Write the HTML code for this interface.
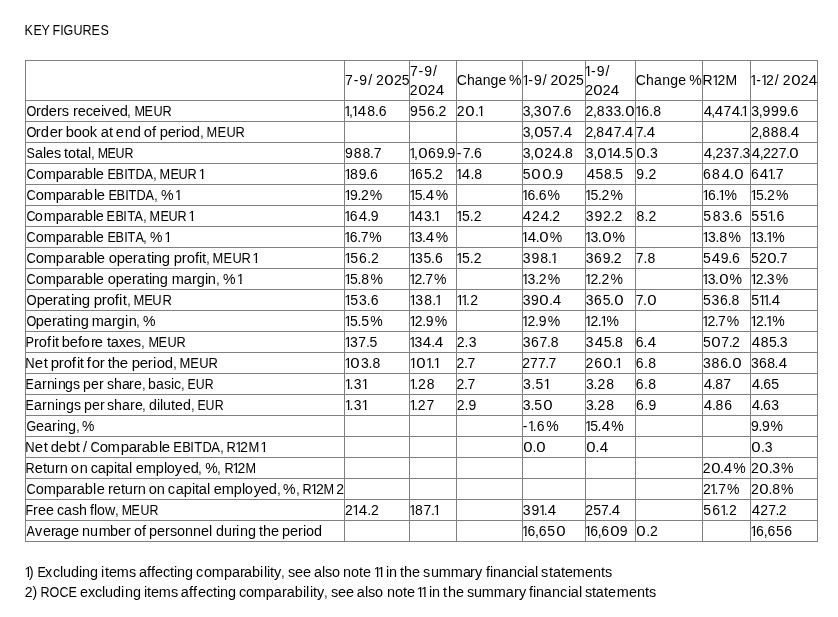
<!DOCTYPE html>
<html><head><meta charset="utf-8"><style>
html,body{margin:0;padding:0;background:#fff;}
body{width:838px;height:617px;position:relative;overflow:hidden;will-change:transform;font-family:"Liberation Sans",sans-serif;font-size:14px;color:#000;}
.t{position:absolute;white-space:pre;line-height:20px;height:20px;transform-origin:0 0;}
b{position:absolute;font-weight:normal;line-height:20px;}
.o{clip-path:polygon(0 0,100% 0,100% 13.6px,4.9px 13.6px,4.9px 20px,3.4px 20px,3.4px 13.6px,0 13.6px);}
.o1{display:inline-block;line-height:20px;height:20px;vertical-align:top;text-indent:-1px;letter-spacing:0;clip-path:polygon(0 0,100% 0,100% 13.6px,3.9px 13.6px,3.9px 20px,2.4px 20px,2.4px 13.6px,0 13.6px);}
.v{position:absolute;background:#808080;width:1px;}
.h{position:absolute;background:#808080;height:1px;}
</style></head><body>
<div class="v" style="left:25px;top:60px;height:482px"></div>
<div class="v" style="left:344px;top:60px;height:482px"></div>
<div class="v" style="left:409px;top:60px;height:482px"></div>
<div class="v" style="left:456px;top:60px;height:482px"></div>
<div class="v" style="left:522px;top:60px;height:482px"></div>
<div class="v" style="left:585px;top:60px;height:482px"></div>
<div class="v" style="left:635px;top:60px;height:482px"></div>
<div class="v" style="left:702px;top:60px;height:482px"></div>
<div class="v" style="left:750px;top:60px;height:482px"></div>
<div class="v" style="left:817px;top:60px;height:482px"></div>
<div class="h" style="left:25px;top:60px;width:793px"></div>
<div class="h" style="left:25px;top:100px;width:793px"></div>
<div class="h" style="left:25px;top:121px;width:793px"></div>
<div class="h" style="left:25px;top:142px;width:793px"></div>
<div class="h" style="left:25px;top:163px;width:793px"></div>
<div class="h" style="left:25px;top:184px;width:793px"></div>
<div class="h" style="left:25px;top:205px;width:793px"></div>
<div class="h" style="left:25px;top:226px;width:793px"></div>
<div class="h" style="left:25px;top:247px;width:793px"></div>
<div class="h" style="left:25px;top:268px;width:793px"></div>
<div class="h" style="left:25px;top:289px;width:793px"></div>
<div class="h" style="left:25px;top:310px;width:793px"></div>
<div class="h" style="left:25px;top:331px;width:793px"></div>
<div class="h" style="left:25px;top:352px;width:793px"></div>
<div class="h" style="left:25px;top:373px;width:793px"></div>
<div class="h" style="left:25px;top:394px;width:793px"></div>
<div class="h" style="left:25px;top:415px;width:793px"></div>
<div class="h" style="left:25px;top:436px;width:793px"></div>
<div class="h" style="left:25px;top:457px;width:793px"></div>
<div class="h" style="left:25px;top:478px;width:793px"></div>
<div class="h" style="left:25px;top:499px;width:793px"></div>
<div class="h" style="left:25px;top:520px;width:793px"></div>
<div class="h" style="left:25px;top:541px;width:793px"></div>
<b style="left:24.13px;top:20px;transform:scaleX(0.895);transform-origin:5.16px 0">K</b><b style="left:32.50px;top:20px;transform:scaleX(0.895);transform-origin:4.94px 0">E</b><b style="left:40.89px;top:20px;transform:scaleX(0.895);transform-origin:4.67px 0">Y</b><b style="left:52.33px;top:20px;transform:scaleX(0.895);transform-origin:4.57px 0">F</b><b style="left:60.26px;top:20px;transform:scaleX(0.895);transform-origin:1.94px 0">I</b><b style="left:63.38px;top:20px;transform:scaleX(0.895);transform-origin:5.27px 0">G</b><b style="left:73.15px;top:20px;transform:scaleX(0.895);transform-origin:5.06px 0">U</b><b style="left:82.17px;top:20px;transform:scaleX(0.895);transform-origin:5.30px 0">R</b><b style="left:91.25px;top:20px;transform:scaleX(0.895);transform-origin:4.94px 0">E</b><b style="left:99.63px;top:20px;transform:scaleX(0.895);transform-origin:4.67px 0">S</b>
<b style="left:344.92px;top:70px">7</b><b style="left:353.69px;top:70px">-</b><b style="left:359.34px;top:70px">9</b><b style="left:368.13px;top:70px">/</b><b style="left:376.10px;top:70px">2</b><b style="left:385.02px;top:70px;transform:scaleX(1.2);transform-origin:3.89px 0">0</b><b style="left:393.93px;top:70px">2</b><b style="left:401.80px;top:70px">5</b>
<b style="left:409.90px;top:61px">7</b><b style="left:418.62px;top:61px">-</b><b style="left:424.21px;top:61px">9</b><b style="left:432.96px;top:61px">/</b>
<b style="left:409.76px;top:80px">2</b><b style="left:418.61px;top:80px;transform:scaleX(1.2);transform-origin:3.89px 0">0</b><b style="left:427.46px;top:80px">2</b><b style="left:436.00px;top:80px;transform:scaleX(1.08);transform-origin:3.85px 0">4</b>
<div class="t" style="left:456.69px;top:70px;letter-spacing:0.104px;word-spacing:-1.3px">Change %</div>
<b class="o" style="left:522.14px;top:70px">1</b><b style="left:528.31px;top:70px">-</b><b style="left:533.90px;top:70px">9</b><b style="left:542.64px;top:70px">/</b><b style="left:550.53px;top:70px">2</b><b style="left:559.37px;top:70px;transform:scaleX(1.2);transform-origin:3.89px 0">0</b><b style="left:568.22px;top:70px">2</b><b style="left:576.02px;top:70px">5</b>
<b class="o" style="left:584.62px;top:61px">1</b><b style="left:590.89px;top:61px">-</b><b style="left:596.67px;top:61px">9</b><b style="left:605.59px;top:61px">/</b>
<b style="left:585.30px;top:80px">2</b><b style="left:593.99px;top:80px;transform:scaleX(1.2);transform-origin:3.89px 0">0</b><b style="left:602.68px;top:80px">2</b><b style="left:611.07px;top:80px;transform:scaleX(1.08);transform-origin:3.85px 0">4</b>
<div class="t" style="left:635.69px;top:70px;letter-spacing:0.262px;word-spacing:-1.3px">Change %</div>
<div class="t" style="left:702.55px;top:70px;letter-spacing:0.313px;word-spacing:-1.3px">R<span class="o1" style="width:4.51px">1</span>2M</div>
<b class="o" style="left:750.08px;top:70px">1</b><b style="left:756.30px;top:70px">-</b><b class="o" style="left:760.71px;top:70px">1</b><b style="left:766.08px;top:70px">2</b><b style="left:774.76px;top:70px">/</b><b style="left:782.78px;top:70px">2</b><b style="left:791.74px;top:70px;transform:scaleX(1.2);transform-origin:3.89px 0">0</b><b style="left:800.70px;top:70px">2</b><b style="left:809.35px;top:70px;transform:scaleX(1.08);transform-origin:3.85px 0">4</b>
<b style="left:25.79px;top:101px;transform:scaleX(0.907);transform-origin:5.44px 0">O</b><b style="left:36.29px;top:101px;transform:scaleX(1.043);transform-origin:2.68px 0">r</b><b style="left:41.20px;top:101px;transform:scaleX(1.043);transform-origin:3.74px 0">d</b><b style="left:49.32px;top:101px;transform:scaleX(1.043);transform-origin:3.88px 0">e</b><b style="left:57.39px;top:101px;transform:scaleX(1.043);transform-origin:2.68px 0">r</b><b style="left:62.29px;top:101px;transform:scaleX(1.043);transform-origin:3.44px 0">s</b><b style="left:72.68px;top:101px;transform:scaleX(1.043);transform-origin:2.68px 0">r</b><b style="left:77.59px;top:101px;transform:scaleX(1.043);transform-origin:3.88px 0">e</b><b style="left:85.70px;top:101px;transform:scaleX(1.043);transform-origin:3.61px 0">c</b><b style="left:93.01px;top:101px;transform:scaleX(1.043);transform-origin:3.88px 0">e</b><b style="left:101.03px;top:101px;transform:scaleX(1.043);transform-origin:1.55px 0">i</b><b style="left:104.36px;top:101px;transform:scaleX(1.043);transform-origin:3.50px 0">v</b><b style="left:111.68px;top:101px;transform:scaleX(1.043);transform-origin:3.88px 0">e</b><b style="left:119.79px;top:101px;transform:scaleX(1.043);transform-origin:3.74px 0">d</b><b style="left:127.47px;top:101px;transform:scaleX(0.857);transform-origin:1.94px 0">,</b><b style="left:133.66px;top:101px;transform:scaleX(0.907);transform-origin:5.83px 0">M</b><b style="left:144.32px;top:101px;transform:scaleX(0.907);transform-origin:4.94px 0">E</b><b style="left:152.78px;top:101px;transform:scaleX(0.907);transform-origin:5.06px 0">U</b><b style="left:161.93px;top:101px;transform:scaleX(0.907);transform-origin:5.30px 0">R</b>
<b class="o" style="left:344.12px;top:101px">1</b><b style="left:349.05px;top:101px">,</b><b class="o" style="left:351.53px;top:101px">1</b><b style="left:358.01px;top:101px;transform:scaleX(1.08);transform-origin:3.85px 0">4</b><b style="left:367.23px;top:101px">8</b><b style="left:374.90px;top:101px">.</b><b style="left:378.68px;top:101px">6</b>
<b style="left:410.10px;top:101px">9</b><b style="left:418.55px;top:101px">5</b><b style="left:427.08px;top:101px">6</b><b style="left:434.86px;top:101px">.</b><b style="left:438.38px;top:101px">2</b>
<b style="left:456.70px;top:101px">2</b><b style="left:466.28px;top:101px;transform:scaleX(1.2);transform-origin:3.89px 0">0</b><b style="left:475.05px;top:101px">.</b><b class="o" style="left:477.54px;top:101px">1</b>
<b style="left:522.66px;top:101px">3</b><b style="left:530.12px;top:101px">,</b><b style="left:533.76px;top:101px">3</b><b style="left:543.01px;top:101px;transform:scaleX(1.2);transform-origin:3.89px 0">0</b><b style="left:552.34px;top:101px">7</b><b style="left:559.79px;top:101px">.</b><b style="left:563.45px;top:101px">6</b>
<b style="left:585.49px;top:101px">2</b><b style="left:592.93px;top:101px">,</b><b style="left:596.74px;top:101px">8</b><b style="left:605.20px;top:101px">3</b><b style="left:613.47px;top:101px">3</b><b style="left:620.87px;top:101px">.</b><b style="left:625.51px;top:101px;transform:scaleX(1.2);transform-origin:3.89px 0">0</b>
<b class="o" style="left:635.00px;top:101px">1</b><b style="left:641.14px;top:101px">6</b><b style="left:649.25px;top:101px">.</b><b style="left:653.35px;top:101px">8</b>
<b style="left:703.55px;top:101px;transform:scaleX(1.08);transform-origin:3.85px 0">4</b><b style="left:711.27px;top:101px">,</b><b style="left:715.19px;top:101px;transform:scaleX(1.08);transform-origin:3.85px 0">4</b><b style="left:723.45px;top:101px">7</b><b style="left:731.82px;top:101px;transform:scaleX(1.08);transform-origin:3.85px 0">4</b><b style="left:739.44px;top:101px">.</b><b class="o" style="left:741.34px;top:101px">1</b>
<b style="left:751.21px;top:101px">3</b><b style="left:758.75px;top:101px">,</b><b style="left:762.49px;top:101px">9</b><b style="left:770.91px;top:101px">9</b><b style="left:779.34px;top:101px">9</b><b style="left:786.86px;top:101px">.</b><b style="left:790.60px;top:101px">6</b>
<b style="left:25.83px;top:122px;transform:scaleX(0.916);transform-origin:5.44px 0">O</b><b style="left:36.41px;top:122px;transform:scaleX(1.053);transform-origin:2.68px 0">r</b><b style="left:41.38px;top:122px;transform:scaleX(1.053);transform-origin:3.74px 0">d</b><b style="left:49.58px;top:122px;transform:scaleX(1.053);transform-origin:3.88px 0">e</b><b style="left:57.72px;top:122px;transform:scaleX(1.053);transform-origin:2.68px 0">r</b><b style="left:65.86px;top:122px;transform:scaleX(1.053);transform-origin:4.05px 0">b</b><b style="left:74.05px;top:122px;transform:scaleX(1.053);transform-origin:3.89px 0">o</b><b style="left:82.25px;top:122px;transform:scaleX(1.053);transform-origin:3.89px 0">o</b><b style="left:90.46px;top:122px;transform:scaleX(1.053);transform-origin:3.98px 0">k</b><b style="left:101.00px;top:122px;transform:scaleX(1.053);transform-origin:4.19px 0">a</b><b style="left:109.08px;top:122px;transform:scaleX(1.053);transform-origin:2.00px 0">t</b><b style="left:116.43px;top:122px;transform:scaleX(1.053);transform-origin:3.88px 0">e</b><b style="left:124.63px;top:122px;transform:scaleX(1.053);transform-origin:3.90px 0">n</b><b style="left:132.83px;top:122px;transform:scaleX(1.053);transform-origin:3.74px 0">d</b><b style="left:144.19px;top:122px;transform:scaleX(1.053);transform-origin:3.89px 0">o</b><b style="left:152.29px;top:122px;transform:scaleX(1.053);transform-origin:2.05px 0">f</b><b style="left:159.65px;top:122px;transform:scaleX(1.053);transform-origin:4.05px 0">p</b><b style="left:167.84px;top:122px;transform:scaleX(1.053);transform-origin:3.88px 0">e</b><b style="left:175.98px;top:122px;transform:scaleX(1.053);transform-origin:2.68px 0">r</b><b style="left:180.83px;top:122px;transform:scaleX(1.053);transform-origin:1.55px 0">i</b><b style="left:184.23px;top:122px;transform:scaleX(1.053);transform-origin:3.89px 0">o</b><b style="left:192.42px;top:122px;transform:scaleX(1.053);transform-origin:3.74px 0">d</b><b style="left:200.16px;top:122px;transform:scaleX(0.865);transform-origin:1.94px 0">,</b><b style="left:206.45px;top:122px;transform:scaleX(0.916);transform-origin:5.83px 0">M</b><b style="left:217.21px;top:122px;transform:scaleX(0.916);transform-origin:4.94px 0">E</b><b style="left:225.75px;top:122px;transform:scaleX(0.916);transform-origin:5.06px 0">U</b><b style="left:234.99px;top:122px;transform:scaleX(0.916);transform-origin:5.30px 0">R</b>
<b style="left:522.63px;top:122px">3</b><b style="left:530.03px;top:122px">,</b><b style="left:534.65px;top:122px;transform:scaleX(1.2);transform-origin:3.89px 0">0</b><b style="left:543.86px;top:122px">5</b><b style="left:552.00px;top:122px">7</b><b style="left:559.39px;top:122px">.</b><b style="left:563.60px;top:122px;transform:scaleX(1.08);transform-origin:3.85px 0">4</b>
<b style="left:585.39px;top:122px">2</b><b style="left:592.64px;top:122px">,</b><b style="left:596.26px;top:122px">8</b><b style="left:605.14px;top:122px;transform:scaleX(1.08);transform-origin:3.85px 0">4</b><b style="left:613.84px;top:122px">7</b><b style="left:621.15px;top:122px">.</b><b style="left:625.26px;top:122px;transform:scaleX(1.08);transform-origin:3.85px 0">4</b>
<b style="left:635.67px;top:122px">7</b><b style="left:643.04px;top:122px">.</b><b style="left:647.22px;top:122px;transform:scaleX(1.08);transform-origin:3.85px 0">4</b>
<b style="left:750.99px;top:122px">2</b><b style="left:758.42px;top:122px">,</b><b style="left:762.21px;top:122px">8</b><b style="left:770.77px;top:122px">8</b><b style="left:779.34px;top:122px">8</b><b style="left:786.92px;top:122px">.</b><b style="left:791.23px;top:122px;transform:scaleX(1.08);transform-origin:3.85px 0">4</b>
<b style="left:25.82px;top:143px;transform:scaleX(0.889);transform-origin:4.67px 0">S</b><b style="left:34.73px;top:143px;transform:scaleX(1.022);transform-origin:4.19px 0">a</b><b style="left:42.63px;top:143px;transform:scaleX(1.022);transform-origin:1.56px 0">l</b><b style="left:45.86px;top:143px;transform:scaleX(1.022);transform-origin:3.88px 0">e</b><b style="left:53.81px;top:143px;transform:scaleX(1.022);transform-origin:3.44px 0">s</b><b style="left:64.00px;top:143px;transform:scaleX(1.022);transform-origin:2.00px 0">t</b><b style="left:68.02px;top:143px;transform:scaleX(1.022);transform-origin:3.89px 0">o</b><b style="left:75.93px;top:143px;transform:scaleX(1.022);transform-origin:2.00px 0">t</b><b style="left:79.96px;top:143px;transform:scaleX(1.022);transform-origin:4.19px 0">a</b><b style="left:87.86px;top:143px;transform:scaleX(1.022);transform-origin:1.56px 0">l</b><b style="left:90.69px;top:143px;transform:scaleX(0.840);transform-origin:1.94px 0">,</b><b style="left:96.69px;top:143px;transform:scaleX(0.889);transform-origin:5.83px 0">M</b><b style="left:107.15px;top:143px;transform:scaleX(0.889);transform-origin:4.94px 0">E</b><b style="left:115.44px;top:143px;transform:scaleX(0.889);transform-origin:5.06px 0">U</b><b style="left:124.40px;top:143px;transform:scaleX(0.889);transform-origin:5.30px 0">R</b>
<b style="left:345.11px;top:143px">9</b><b style="left:353.72px;top:143px">8</b><b style="left:362.43px;top:143px">8</b><b style="left:370.12px;top:143px">.</b><b style="left:373.80px;top:143px">7</b>
<b class="o" style="left:409.05px;top:143px">1</b><b style="left:413.93px;top:143px">,</b><b style="left:418.61px;top:143px;transform:scaleX(1.2);transform-origin:3.89px 0">0</b><b style="left:428.04px;top:143px">6</b><b style="left:436.53px;top:143px">9</b><b style="left:443.96px;top:143px">.</b><b style="left:447.50px;top:143px">9</b>
<b style="left:456.86px;top:143px">-</b><b style="left:462.82px;top:143px">7</b><b style="left:470.36px;top:143px">.</b><b style="left:474.10px;top:143px">6</b>
<b style="left:522.70px;top:143px">3</b><b style="left:530.22px;top:143px">,</b><b style="left:534.99px;top:143px;transform:scaleX(1.2);transform-origin:3.89px 0">0</b><b style="left:544.27px;top:143px">2</b><b style="left:553.23px;top:143px;transform:scaleX(1.08);transform-origin:3.85px 0">4</b><b style="left:561.38px;top:143px">.</b><b style="left:565.09px;top:143px">8</b>
<b style="left:585.78px;top:143px">3</b><b style="left:593.44px;top:143px">,</b><b style="left:598.36px;top:143px;transform:scaleX(1.2);transform-origin:3.89px 0">0</b><b class="o" style="left:606.74px;top:143px">1</b><b style="left:613.29px;top:143px;transform:scaleX(1.08);transform-origin:3.85px 0">4</b><b style="left:621.59px;top:143px">.</b><b style="left:625.30px;top:143px">5</b>
<b style="left:637.16px;top:143px;transform:scaleX(1.2);transform-origin:3.89px 0">0</b><b style="left:646.10px;top:143px">.</b><b style="left:650.01px;top:143px">3</b>
<b style="left:703.81px;top:143px;transform:scaleX(1.08);transform-origin:3.85px 0">4</b><b style="left:711.93px;top:143px">,</b><b style="left:715.38px;top:143px">2</b><b style="left:723.44px;top:143px">3</b><b style="left:731.57px;top:143px">7</b><b style="left:738.97px;top:143px">.</b><b style="left:742.46px;top:143px">3</b>
<b style="left:751.82px;top:143px;transform:scaleX(1.08);transform-origin:3.85px 0">4</b><b style="left:759.80px;top:143px">,</b><b style="left:763.12px;top:143px">2</b><b style="left:770.86px;top:143px">2</b><b style="left:778.73px;top:143px">7</b><b style="left:786.01px;top:143px">.</b><b style="left:790.39px;top:143px;transform:scaleX(1.2);transform-origin:3.89px 0">0</b>
<b class="o" style="left:198.44px;top:164px">1</b><b style="left:25.77px;top:164px;transform:scaleX(0.905);transform-origin:5.14px 0">C</b><b style="left:35.57px;top:164px;transform:scaleX(1.041);transform-origin:3.89px 0">o</b><b style="left:43.75px;top:164px;transform:scaleX(1.041);transform-origin:5.83px 0">m</b><b style="left:55.81px;top:164px;transform:scaleX(1.041);transform-origin:4.05px 0">p</b><b style="left:63.92px;top:164px;transform:scaleX(1.041);transform-origin:4.19px 0">a</b><b style="left:71.97px;top:164px;transform:scaleX(1.041);transform-origin:2.68px 0">r</b><b style="left:76.88px;top:164px;transform:scaleX(1.041);transform-origin:4.19px 0">a</b><b style="left:84.98px;top:164px;transform:scaleX(1.041);transform-origin:4.05px 0">b</b><b style="left:92.98px;top:164px;transform:scaleX(1.041);transform-origin:1.56px 0">l</b><b style="left:96.31px;top:164px;transform:scaleX(1.041);transform-origin:3.88px 0">e</b><b style="left:106.91px;top:164px;transform:scaleX(0.905);transform-origin:4.94px 0">E</b><b style="left:115.36px;top:164px;transform:scaleX(0.905);transform-origin:4.87px 0">B</b><b style="left:124.09px;top:164px;transform:scaleX(0.905);transform-origin:1.94px 0">I</b><b style="left:127.39px;top:164px;transform:scaleX(0.905);transform-origin:4.27px 0">T</b><b style="left:135.03px;top:164px;transform:scaleX(0.905);transform-origin:5.29px 0">D</b><b style="left:144.24px;top:164px;transform:scaleX(0.905);transform-origin:4.67px 0">A</b><b style="left:152.86px;top:164px;transform:scaleX(0.855);transform-origin:1.94px 0">,</b><b style="left:159.03px;top:164px;transform:scaleX(0.905);transform-origin:5.83px 0">M</b><b style="left:169.67px;top:164px;transform:scaleX(0.905);transform-origin:4.94px 0">E</b><b style="left:178.11px;top:164px;transform:scaleX(0.905);transform-origin:5.06px 0">U</b><b style="left:187.23px;top:164px;transform:scaleX(0.905);transform-origin:5.30px 0">R</b>
<b class="o" style="left:344.14px;top:164px">1</b><b style="left:350.02px;top:164px">8</b><b style="left:358.65px;top:164px">9</b><b style="left:366.25px;top:164px">.</b><b style="left:370.06px;top:164px">6</b>
<b class="o" style="left:409.18px;top:164px">1</b><b style="left:415.12px;top:164px">6</b><b style="left:423.92px;top:164px">5</b><b style="left:431.52px;top:164px">.</b><b style="left:435.12px;top:164px">2</b>
<b class="o" style="left:455.83px;top:164px">1</b><b style="left:462.32px;top:164px;transform:scaleX(1.08);transform-origin:3.85px 0">4</b><b style="left:470.55px;top:164px">.</b><b style="left:474.35px;top:164px">8</b>
<b style="left:522.63px;top:164px">5</b><b style="left:532.19px;top:164px;transform:scaleX(1.2);transform-origin:3.89px 0">0</b><b style="left:542.88px;top:164px;transform:scaleX(1.2);transform-origin:3.89px 0">0</b><b style="left:551.57px;top:164px">.</b><b style="left:555.29px;top:164px">9</b>
<b style="left:586.52px;top:164px;transform:scaleX(1.08);transform-origin:3.85px 0">4</b><b style="left:595.58px;top:164px">5</b><b style="left:604.08px;top:164px">8</b><b style="left:611.73px;top:164px">.</b><b style="left:615.35px;top:164px">5</b>
<b style="left:636.17px;top:164px">9</b><b style="left:644.38px;top:164px">.</b><b style="left:648.52px;top:164px">2</b>
<b style="left:703.01px;top:164px">6</b><b style="left:712.00px;top:164px">8</b><b style="left:721.52px;top:164px;transform:scaleX(1.08);transform-origin:3.85px 0">4</b><b style="left:729.88px;top:164px">.</b><b style="left:734.76px;top:164px;transform:scaleX(1.2);transform-origin:3.89px 0">0</b>
<b style="left:750.92px;top:164px">6</b><b style="left:760.00px;top:164px;transform:scaleX(1.08);transform-origin:3.85px 0">4</b><b class="o" style="left:767.52px;top:164px">1</b><b style="left:772.28px;top:164px">.</b><b style="left:775.73px;top:164px">7</b>
<b class="o" style="left:174.84px;top:185px">1</b><b style="left:25.80px;top:185px;transform:scaleX(0.912);transform-origin:5.14px 0">C</b><b style="left:35.66px;top:185px;transform:scaleX(1.049);transform-origin:3.89px 0">o</b><b style="left:43.92px;top:185px;transform:scaleX(1.049);transform-origin:5.83px 0">m</b><b style="left:56.07px;top:185px;transform:scaleX(1.049);transform-origin:4.05px 0">p</b><b style="left:64.24px;top:185px;transform:scaleX(1.049);transform-origin:4.19px 0">a</b><b style="left:72.33px;top:185px;transform:scaleX(1.049);transform-origin:2.68px 0">r</b><b style="left:77.29px;top:185px;transform:scaleX(1.049);transform-origin:4.19px 0">a</b><b style="left:85.45px;top:185px;transform:scaleX(1.049);transform-origin:4.05px 0">b</b><b style="left:93.50px;top:185px;transform:scaleX(1.049);transform-origin:1.56px 0">l</b><b style="left:96.87px;top:185px;transform:scaleX(1.049);transform-origin:3.88px 0">e</b><b style="left:107.55px;top:185px;transform:scaleX(0.912);transform-origin:4.94px 0">E</b><b style="left:116.07px;top:185px;transform:scaleX(0.912);transform-origin:4.87px 0">B</b><b style="left:124.85px;top:185px;transform:scaleX(0.912);transform-origin:1.94px 0">I</b><b style="left:128.19px;top:185px;transform:scaleX(0.912);transform-origin:4.27px 0">T</b><b style="left:135.90px;top:185px;transform:scaleX(0.912);transform-origin:5.29px 0">D</b><b style="left:145.17px;top:185px;transform:scaleX(0.912);transform-origin:4.67px 0">A</b><b style="left:153.83px;top:185px;transform:scaleX(0.861);transform-origin:1.94px 0">,</b><b style="left:160.67px;top:185px;transform:scaleX(1.013);transform-origin:6.22px 0">%</b>
<b class="o" style="left:344.13px;top:185px">1</b><b style="left:349.88px;top:185px">9</b><b style="left:357.46px;top:185px">.</b><b style="left:360.98px;top:185px">2</b><b style="left:369.86px;top:185px">%</b>
<b class="o" style="left:409.07px;top:185px">1</b><b style="left:414.70px;top:185px">5</b><b style="left:422.11px;top:185px">.</b><b style="left:426.41px;top:185px;transform:scaleX(1.08);transform-origin:3.85px 0">4</b><b style="left:435.87px;top:185px">%</b>
<b class="o" style="left:521.65px;top:185px">1</b><b style="left:527.38px;top:185px">6</b><b style="left:535.02px;top:185px">.</b><b style="left:538.67px;top:185px">6</b><b style="left:547.62px;top:185px">%</b>
<b class="o" style="left:584.74px;top:185px">1</b><b style="left:590.46px;top:185px">5</b><b style="left:597.99px;top:185px">.</b><b style="left:601.53px;top:185px">2</b><b style="left:610.44px;top:185px">%</b>
<b class="o" style="left:702.13px;top:185px">1</b><b style="left:707.99px;top:185px">6</b><b style="left:715.78px;top:185px">.</b><b class="o" style="left:718.17px;top:185px">1</b><b style="left:724.46px;top:185px">%</b>
<b class="o" style="left:750.24px;top:185px">1</b><b style="left:755.96px;top:185px">5</b><b style="left:763.49px;top:185px">.</b><b style="left:767.03px;top:185px">2</b><b style="left:775.94px;top:185px">%</b>
<b class="o" style="left:188.24px;top:206px">1</b><b style="left:25.74px;top:206px;transform:scaleX(0.899);transform-origin:5.14px 0">C</b><b style="left:35.48px;top:206px;transform:scaleX(1.034);transform-origin:3.89px 0">o</b><b style="left:43.60px;top:206px;transform:scaleX(1.034);transform-origin:5.83px 0">m</b><b style="left:55.60px;top:206px;transform:scaleX(1.034);transform-origin:4.05px 0">p</b><b style="left:63.65px;top:206px;transform:scaleX(1.034);transform-origin:4.19px 0">a</b><b style="left:71.65px;top:206px;transform:scaleX(1.034);transform-origin:2.68px 0">r</b><b style="left:76.52px;top:206px;transform:scaleX(1.034);transform-origin:4.19px 0">a</b><b style="left:84.57px;top:206px;transform:scaleX(1.034);transform-origin:4.05px 0">b</b><b style="left:92.54px;top:206px;transform:scaleX(1.034);transform-origin:1.56px 0">l</b><b style="left:95.83px;top:206px;transform:scaleX(1.034);transform-origin:3.88px 0">e</b><b style="left:106.35px;top:206px;transform:scaleX(0.899);transform-origin:4.94px 0">E</b><b style="left:114.75px;top:206px;transform:scaleX(0.899);transform-origin:4.87px 0">B</b><b style="left:123.44px;top:206px;transform:scaleX(0.899);transform-origin:1.94px 0">I</b><b style="left:126.71px;top:206px;transform:scaleX(0.899);transform-origin:4.27px 0">T</b><b style="left:134.35px;top:206px;transform:scaleX(0.899);transform-origin:4.67px 0">A</b><b style="left:142.93px;top:206px;transform:scaleX(0.849);transform-origin:1.94px 0">,</b><b style="left:149.03px;top:206px;transform:scaleX(0.899);transform-origin:5.83px 0">M</b><b style="left:159.61px;top:206px;transform:scaleX(0.899);transform-origin:4.94px 0">E</b><b style="left:167.99px;top:206px;transform:scaleX(0.899);transform-origin:5.06px 0">U</b><b style="left:177.06px;top:206px;transform:scaleX(0.899);transform-origin:5.30px 0">R</b>
<b class="o" style="left:344.06px;top:206px">1</b><b style="left:349.81px;top:206px">6</b><b style="left:359.04px;top:206px;transform:scaleX(1.08);transform-origin:3.85px 0">4</b><b style="left:367.13px;top:206px">.</b><b style="left:370.69px;top:206px">9</b>
<b class="o" style="left:409.00px;top:206px">1</b><b style="left:415.25px;top:206px;transform:scaleX(1.08);transform-origin:3.85px 0">4</b><b style="left:424.01px;top:206px">3</b><b style="left:431.26px;top:206px">.</b><b class="o" style="left:433.44px;top:206px">1</b>
<b class="o" style="left:456.01px;top:206px">1</b><b style="left:462.01px;top:206px">5</b><b style="left:469.85px;top:206px">.</b><b style="left:473.69px;top:206px">2</b>
<b style="left:523.40px;top:206px;transform:scaleX(1.08);transform-origin:3.85px 0">4</b><b style="left:532.08px;top:206px">2</b><b style="left:540.84px;top:206px;transform:scaleX(1.08);transform-origin:3.85px 0">4</b><b style="left:548.85px;top:206px">.</b><b style="left:552.18px;top:206px">2</b>
<b style="left:585.84px;top:206px">3</b><b style="left:594.51px;top:206px">9</b><b style="left:603.10px;top:206px">2</b><b style="left:610.69px;top:206px">.</b><b style="left:614.38px;top:206px">2</b>
<b style="left:636.38px;top:206px">8</b><b style="left:644.58px;top:206px">.</b><b style="left:648.59px;top:206px">2</b>
<b style="left:703.31px;top:206px">5</b><b style="left:712.64px;top:206px">8</b><b style="left:722.03px;top:206px">3</b><b style="left:730.04px;top:206px">.</b><b style="left:734.37px;top:206px">6</b>
<b style="left:751.26px;top:206px">5</b><b style="left:760.07px;top:206px">5</b><b class="o" style="left:767.60px;top:206px">1</b><b style="left:772.54px;top:206px">.</b><b style="left:776.62px;top:206px">6</b>
<b class="o" style="left:164.14px;top:227px">1</b><b style="left:25.75px;top:227px;transform:scaleX(0.902);transform-origin:5.14px 0">C</b><b style="left:35.52px;top:227px;transform:scaleX(1.037);transform-origin:3.89px 0">o</b><b style="left:43.67px;top:227px;transform:scaleX(1.037);transform-origin:5.83px 0">m</b><b style="left:55.71px;top:227px;transform:scaleX(1.037);transform-origin:4.05px 0">p</b><b style="left:63.79px;top:227px;transform:scaleX(1.037);transform-origin:4.19px 0">a</b><b style="left:71.81px;top:227px;transform:scaleX(1.037);transform-origin:2.68px 0">r</b><b style="left:76.70px;top:227px;transform:scaleX(1.037);transform-origin:4.19px 0">a</b><b style="left:84.77px;top:227px;transform:scaleX(1.037);transform-origin:4.05px 0">b</b><b style="left:92.76px;top:227px;transform:scaleX(1.037);transform-origin:1.56px 0">l</b><b style="left:96.07px;top:227px;transform:scaleX(1.037);transform-origin:3.88px 0">e</b><b style="left:106.63px;top:227px;transform:scaleX(0.902);transform-origin:4.94px 0">E</b><b style="left:115.06px;top:227px;transform:scaleX(0.902);transform-origin:4.87px 0">B</b><b style="left:123.77px;top:227px;transform:scaleX(0.902);transform-origin:1.94px 0">I</b><b style="left:127.05px;top:227px;transform:scaleX(0.902);transform-origin:4.27px 0">T</b><b style="left:134.72px;top:227px;transform:scaleX(0.902);transform-origin:4.67px 0">A</b><b style="left:143.31px;top:227px;transform:scaleX(0.852);transform-origin:1.94px 0">,</b><b style="left:150.04px;top:227px">%</b>
<b class="o" style="left:344.00px;top:227px">1</b><b style="left:349.65px;top:227px">6</b><b style="left:357.20px;top:227px">.</b><b style="left:360.64px;top:227px">7</b><b style="left:369.22px;top:227px">%</b>
<b class="o" style="left:409.07px;top:227px">1</b><b style="left:414.72px;top:227px">3</b><b style="left:422.11px;top:227px">.</b><b style="left:426.41px;top:227px;transform:scaleX(1.08);transform-origin:3.85px 0">4</b><b style="left:435.87px;top:227px">%</b>
<b class="o" style="left:521.58px;top:227px">1</b><b style="left:527.82px;top:227px;transform:scaleX(1.08);transform-origin:3.85px 0">4</b><b style="left:535.76px;top:227px">.</b><b style="left:540.20px;top:227px;transform:scaleX(1.2);transform-origin:3.89px 0">0</b><b style="left:549.74px;top:227px">%</b>
<b class="o" style="left:584.70px;top:227px">1</b><b style="left:590.40px;top:227px">3</b><b style="left:597.83px;top:227px">.</b><b style="left:602.52px;top:227px;transform:scaleX(1.2);transform-origin:3.89px 0">0</b><b style="left:612.51px;top:227px">%</b>
<b class="o" style="left:702.14px;top:227px">1</b><b style="left:707.91px;top:227px">3</b><b style="left:715.42px;top:227px">.</b><b style="left:719.23px;top:227px">8</b><b style="left:728.43px;top:227px">%</b>
<b class="o" style="left:750.24px;top:227px">1</b><b style="left:756.00px;top:227px">3</b><b style="left:763.50px;top:227px">.</b><b class="o" style="left:765.91px;top:227px">1</b><b style="left:772.23px;top:227px">%</b>
<b class="o" style="left:252.24px;top:248px">1</b><b style="left:25.83px;top:248px;transform:scaleX(0.919);transform-origin:5.14px 0">C</b><b style="left:35.75px;top:248px;transform:scaleX(1.056);transform-origin:3.89px 0">o</b><b style="left:44.09px;top:248px;transform:scaleX(1.056);transform-origin:5.83px 0">m</b><b style="left:56.31px;top:248px;transform:scaleX(1.056);transform-origin:4.05px 0">p</b><b style="left:64.54px;top:248px;transform:scaleX(1.056);transform-origin:4.19px 0">a</b><b style="left:72.68px;top:248px;transform:scaleX(1.056);transform-origin:2.68px 0">r</b><b style="left:77.69px;top:248px;transform:scaleX(1.056);transform-origin:4.19px 0">a</b><b style="left:85.91px;top:248px;transform:scaleX(1.056);transform-origin:4.05px 0">b</b><b style="left:93.99px;top:248px;transform:scaleX(1.056);transform-origin:1.56px 0">l</b><b style="left:97.41px;top:248px;transform:scaleX(1.056);transform-origin:3.88px 0">e</b><b style="left:108.80px;top:248px;transform:scaleX(1.056);transform-origin:3.89px 0">o</b><b style="left:117.03px;top:248px;transform:scaleX(1.056);transform-origin:4.05px 0">p</b><b style="left:125.25px;top:248px;transform:scaleX(1.056);transform-origin:3.88px 0">e</b><b style="left:133.41px;top:248px;transform:scaleX(1.056);transform-origin:2.68px 0">r</b><b style="left:138.42px;top:248px;transform:scaleX(1.056);transform-origin:4.19px 0">a</b><b style="left:146.52px;top:248px;transform:scaleX(1.056);transform-origin:2.00px 0">t</b><b style="left:150.60px;top:248px;transform:scaleX(1.056);transform-origin:1.55px 0">i</b><b style="left:154.02px;top:248px;transform:scaleX(1.056);transform-origin:3.90px 0">n</b><b style="left:162.24px;top:248px;transform:scaleX(1.056);transform-origin:3.74px 0">g</b><b style="left:173.64px;top:248px;transform:scaleX(1.056);transform-origin:4.05px 0">p</b><b style="left:181.79px;top:248px;transform:scaleX(1.056);transform-origin:2.68px 0">r</b><b style="left:186.78px;top:248px;transform:scaleX(1.056);transform-origin:3.89px 0">o</b><b style="left:194.91px;top:248px;transform:scaleX(1.056);transform-origin:2.05px 0">f</b><b style="left:198.99px;top:248px;transform:scaleX(1.056);transform-origin:1.55px 0">i</b><b style="left:202.30px;top:248px;transform:scaleX(1.056);transform-origin:2.00px 0">t</b><b style="left:206.04px;top:248px;transform:scaleX(0.868);transform-origin:1.94px 0">,</b><b style="left:212.36px;top:248px;transform:scaleX(0.919);transform-origin:5.83px 0">M</b><b style="left:223.14px;top:248px;transform:scaleX(0.919);transform-origin:4.94px 0">E</b><b style="left:231.71px;top:248px;transform:scaleX(0.919);transform-origin:5.06px 0">U</b><b style="left:240.98px;top:248px;transform:scaleX(0.919);transform-origin:5.30px 0">R</b>
<b class="o" style="left:344.27px;top:248px">1</b><b style="left:350.20px;top:248px">5</b><b style="left:359.12px;top:248px">6</b><b style="left:367.17px;top:248px">.</b><b style="left:370.93px;top:248px">2</b>
<b class="o" style="left:409.18px;top:248px">1</b><b style="left:415.01px;top:248px">3</b><b style="left:423.52px;top:248px">5</b><b style="left:431.12px;top:248px">.</b><b style="left:435.02px;top:248px">6</b>
<b class="o" style="left:456.01px;top:248px">1</b><b style="left:462.01px;top:248px">5</b><b style="left:469.85px;top:248px">.</b><b style="left:473.69px;top:248px">2</b>
<b style="left:522.83px;top:248px">3</b><b style="left:531.45px;top:248px">9</b><b style="left:540.28px;top:248px">8</b><b style="left:548.11px;top:248px">.</b><b class="o" style="left:550.64px;top:248px">1</b>
<b style="left:585.70px;top:248px">3</b><b style="left:594.12px;top:248px">6</b><b style="left:602.74px;top:248px">9</b><b style="left:610.25px;top:248px">.</b><b style="left:613.71px;top:248px">2</b>
<b style="left:635.86px;top:248px">7</b><b style="left:643.57px;top:248px">.</b><b style="left:647.47px;top:248px">8</b>
<b style="left:702.94px;top:248px">5</b><b style="left:711.89px;top:248px;transform:scaleX(1.08);transform-origin:3.85px 0">4</b><b style="left:720.83px;top:248px">9</b><b style="left:728.28px;top:248px">.</b><b style="left:731.94px;top:248px">6</b>
<b style="left:750.98px;top:248px">5</b><b style="left:758.91px;top:248px">2</b><b style="left:767.93px;top:248px;transform:scaleX(1.2);transform-origin:3.89px 0">0</b><b style="left:776.30px;top:248px">.</b><b style="left:779.74px;top:248px">7</b>
<b class="o" style="left:236.64px;top:269px">1</b><b style="left:25.77px;top:269px;transform:scaleX(0.906);transform-origin:5.14px 0">C</b><b style="left:35.58px;top:269px;transform:scaleX(1.042);transform-origin:3.89px 0">o</b><b style="left:43.78px;top:269px;transform:scaleX(1.042);transform-origin:5.83px 0">m</b><b style="left:55.85px;top:269px;transform:scaleX(1.042);transform-origin:4.05px 0">p</b><b style="left:63.97px;top:269px;transform:scaleX(1.042);transform-origin:4.19px 0">a</b><b style="left:72.02px;top:269px;transform:scaleX(1.042);transform-origin:2.68px 0">r</b><b style="left:76.94px;top:269px;transform:scaleX(1.042);transform-origin:4.19px 0">a</b><b style="left:85.05px;top:269px;transform:scaleX(1.042);transform-origin:4.05px 0">b</b><b style="left:93.06px;top:269px;transform:scaleX(1.042);transform-origin:1.56px 0">l</b><b style="left:96.40px;top:269px;transform:scaleX(1.042);transform-origin:3.88px 0">e</b><b style="left:107.64px;top:269px;transform:scaleX(1.042);transform-origin:3.89px 0">o</b><b style="left:115.76px;top:269px;transform:scaleX(1.042);transform-origin:4.05px 0">p</b><b style="left:123.86px;top:269px;transform:scaleX(1.042);transform-origin:3.88px 0">e</b><b style="left:131.93px;top:269px;transform:scaleX(1.042);transform-origin:2.68px 0">r</b><b style="left:136.85px;top:269px;transform:scaleX(1.042);transform-origin:4.19px 0">a</b><b style="left:144.87px;top:269px;transform:scaleX(1.042);transform-origin:2.00px 0">t</b><b style="left:148.90px;top:269px;transform:scaleX(1.042);transform-origin:1.55px 0">i</b><b style="left:152.24px;top:269px;transform:scaleX(1.042);transform-origin:3.90px 0">n</b><b style="left:160.35px;top:269px;transform:scaleX(1.042);transform-origin:3.74px 0">g</b><b style="left:171.67px;top:269px;transform:scaleX(1.042);transform-origin:5.83px 0">m</b><b style="left:183.76px;top:269px;transform:scaleX(1.042);transform-origin:4.19px 0">a</b><b style="left:191.81px;top:269px;transform:scaleX(1.042);transform-origin:2.68px 0">r</b><b style="left:196.71px;top:269px;transform:scaleX(1.042);transform-origin:3.74px 0">g</b><b style="left:204.73px;top:269px;transform:scaleX(1.042);transform-origin:1.55px 0">i</b><b style="left:208.07px;top:269px;transform:scaleX(1.042);transform-origin:3.90px 0">n</b><b style="left:215.74px;top:269px;transform:scaleX(0.856);transform-origin:1.94px 0">,</b><b style="left:222.51px;top:269px;transform:scaleX(1.007);transform-origin:6.22px 0">%</b>
<b class="o" style="left:344.14px;top:269px">1</b><b style="left:349.88px;top:269px">5</b><b style="left:357.42px;top:269px">.</b><b style="left:361.23px;top:269px">8</b><b style="left:370.43px;top:269px">%</b>
<b class="o" style="left:409.05px;top:269px">1</b><b style="left:414.53px;top:269px">2</b><b style="left:421.81px;top:269px">.</b><b style="left:425.35px;top:269px">7</b><b style="left:434.11px;top:269px">%</b>
<b class="o" style="left:521.78px;top:269px">1</b><b style="left:527.60px;top:269px">3</b><b style="left:535.18px;top:269px">.</b><b style="left:538.79px;top:269px">2</b><b style="left:547.85px;top:269px">%</b>
<b class="o" style="left:584.75px;top:269px">1</b><b style="left:590.39px;top:269px">2</b><b style="left:597.86px;top:269px">.</b><b style="left:601.43px;top:269px">2</b><b style="left:610.40px;top:269px">%</b>
<b class="o" style="left:702.05px;top:269px">1</b><b style="left:707.68px;top:269px">3</b><b style="left:715.03px;top:269px">.</b><b style="left:719.61px;top:269px;transform:scaleX(1.2);transform-origin:3.89px 0">0</b><b style="left:729.41px;top:269px">%</b>
<b class="o" style="left:750.21px;top:269px">1</b><b style="left:755.78px;top:269px">2</b><b style="left:763.17px;top:269px">.</b><b style="left:766.81px;top:269px">3</b><b style="left:775.69px;top:269px">%</b>
<b style="left:25.89px;top:290px;transform:scaleX(0.928);transform-origin:5.44px 0">O</b><b style="left:36.66px;top:290px;transform:scaleX(1.067);transform-origin:4.05px 0">p</b><b style="left:44.95px;top:290px;transform:scaleX(1.067);transform-origin:3.88px 0">e</b><b style="left:53.18px;top:290px;transform:scaleX(1.067);transform-origin:2.68px 0">r</b><b style="left:58.25px;top:290px;transform:scaleX(1.067);transform-origin:4.19px 0">a</b><b style="left:66.41px;top:290px;transform:scaleX(1.067);transform-origin:2.00px 0">t</b><b style="left:70.53px;top:290px;transform:scaleX(1.067);transform-origin:1.55px 0">i</b><b style="left:74.01px;top:290px;transform:scaleX(1.067);transform-origin:3.90px 0">n</b><b style="left:82.30px;top:290px;transform:scaleX(1.067);transform-origin:3.74px 0">g</b><b style="left:93.83px;top:290px;transform:scaleX(1.067);transform-origin:4.05px 0">p</b><b style="left:102.04px;top:290px;transform:scaleX(1.067);transform-origin:2.68px 0">r</b><b style="left:107.10px;top:290px;transform:scaleX(1.067);transform-origin:3.89px 0">o</b><b style="left:115.28px;top:290px;transform:scaleX(1.067);transform-origin:2.05px 0">f</b><b style="left:119.40px;top:290px;transform:scaleX(1.067);transform-origin:1.55px 0">i</b><b style="left:122.74px;top:290px;transform:scaleX(1.067);transform-origin:2.00px 0">t</b><b style="left:126.52px;top:290px;transform:scaleX(0.876);transform-origin:1.94px 0">,</b><b style="left:132.94px;top:290px;transform:scaleX(0.928);transform-origin:5.83px 0">M</b><b style="left:143.82px;top:290px;transform:scaleX(0.928);transform-origin:4.94px 0">E</b><b style="left:152.48px;top:290px;transform:scaleX(0.928);transform-origin:5.06px 0">U</b><b style="left:161.84px;top:290px;transform:scaleX(0.928);transform-origin:5.30px 0">R</b>
<b class="o" style="left:344.27px;top:290px">1</b><b style="left:350.21px;top:290px">5</b><b style="left:359.02px;top:290px">3</b><b style="left:366.76px;top:290px">.</b><b style="left:370.82px;top:290px">6</b>
<b class="o" style="left:409.30px;top:290px">1</b><b style="left:415.30px;top:290px">3</b><b style="left:424.27px;top:290px">8</b><b style="left:432.27px;top:290px">.</b><b class="o" style="left:434.94px;top:290px">1</b>
<b class="o" style="left:456.15px;top:290px">1</b><b class="o" style="left:461.05px;top:290px">1</b><b style="left:466.09px;top:290px">.</b><b style="left:470.16px;top:290px">2</b>
<b style="left:522.69px;top:290px">3</b><b style="left:530.96px;top:290px">9</b><b style="left:540.37px;top:290px;transform:scaleX(1.2);transform-origin:3.89px 0">0</b><b style="left:548.91px;top:290px">.</b><b style="left:553.23px;top:290px;transform:scaleX(1.08);transform-origin:3.85px 0">4</b>
<b style="left:585.69px;top:290px">3</b><b style="left:594.09px;top:290px">6</b><b style="left:602.63px;top:290px">5</b><b style="left:610.06px;top:290px">.</b><b style="left:614.71px;top:290px;transform:scaleX(1.2);transform-origin:3.89px 0">0</b>
<b style="left:635.70px;top:290px">7</b><b style="left:643.12px;top:290px">.</b><b style="left:647.67px;top:290px;transform:scaleX(1.2);transform-origin:3.89px 0">0</b>
<b style="left:703.01px;top:290px">5</b><b style="left:711.44px;top:290px">3</b><b style="left:719.96px;top:290px">6</b><b style="left:727.75px;top:290px">.</b><b style="left:731.55px;top:290px">8</b>
<b style="left:751.18px;top:290px">5</b><b class="o" style="left:758.49px;top:290px">1</b><b class="o" style="left:763.04px;top:290px">1</b><b style="left:767.92px;top:290px">.</b><b style="left:772.47px;top:290px;transform:scaleX(1.08);transform-origin:3.85px 0">4</b>
<b style="left:25.78px;top:311px;transform:scaleX(0.905);transform-origin:5.44px 0">O</b><b style="left:36.32px;top:311px;transform:scaleX(1.041);transform-origin:4.05px 0">p</b><b style="left:44.41px;top:311px;transform:scaleX(1.041);transform-origin:3.88px 0">e</b><b style="left:52.47px;top:311px;transform:scaleX(1.041);transform-origin:2.68px 0">r</b><b style="left:57.38px;top:311px;transform:scaleX(1.041);transform-origin:4.19px 0">a</b><b style="left:65.39px;top:311px;transform:scaleX(1.041);transform-origin:2.00px 0">t</b><b style="left:69.42px;top:311px;transform:scaleX(1.041);transform-origin:1.55px 0">i</b><b style="left:72.75px;top:311px;transform:scaleX(1.041);transform-origin:3.90px 0">n</b><b style="left:80.85px;top:311px;transform:scaleX(1.041);transform-origin:3.74px 0">g</b><b style="left:92.15px;top:311px;transform:scaleX(1.041);transform-origin:5.83px 0">m</b><b style="left:104.22px;top:311px;transform:scaleX(1.041);transform-origin:4.19px 0">a</b><b style="left:112.26px;top:311px;transform:scaleX(1.041);transform-origin:2.68px 0">r</b><b style="left:117.16px;top:311px;transform:scaleX(1.041);transform-origin:3.74px 0">g</b><b style="left:125.17px;top:311px;transform:scaleX(1.041);transform-origin:1.55px 0">i</b><b style="left:128.50px;top:311px;transform:scaleX(1.041);transform-origin:3.90px 0">n</b><b style="left:136.16px;top:311px;transform:scaleX(0.855);transform-origin:1.94px 0">,</b><b style="left:142.92px;top:311px;transform:scaleX(1.005);transform-origin:6.22px 0">%</b>
<b class="o" style="left:344.17px;top:311px">1</b><b style="left:349.95px;top:311px">5</b><b style="left:357.53px;top:311px">.</b><b style="left:361.25px;top:311px">5</b><b style="left:370.37px;top:311px">%</b>
<b class="o" style="left:409.13px;top:311px">1</b><b style="left:414.72px;top:311px">2</b><b style="left:422.14px;top:311px">.</b><b style="left:425.82px;top:311px">9</b><b style="left:434.86px;top:311px">%</b>
<b class="o" style="left:521.77px;top:311px">1</b><b style="left:527.43px;top:311px">2</b><b style="left:534.92px;top:311px">.</b><b style="left:538.68px;top:311px">9</b><b style="left:547.87px;top:311px">%</b>
<b class="o" style="left:584.75px;top:311px">1</b><b style="left:590.38px;top:311px">2</b><b style="left:597.84px;top:311px">.</b><b class="o" style="left:600.26px;top:311px">1</b><b style="left:606.61px;top:311px">%</b>
<b class="o" style="left:702.01px;top:311px">1</b><b style="left:707.42px;top:311px">2</b><b style="left:714.63px;top:311px">.</b><b style="left:718.09px;top:311px">7</b><b style="left:726.70px;top:311px">%</b>
<b class="o" style="left:750.26px;top:311px">1</b><b style="left:755.90px;top:311px">2</b><b style="left:763.38px;top:311px">.</b><b class="o" style="left:765.82px;top:311px">1</b><b style="left:772.19px;top:311px">%</b>
<b style="left:25.42px;top:332px;transform:scaleX(0.910);transform-origin:4.87px 0">P</b><b style="left:34.48px;top:332px;transform:scaleX(1.046);transform-origin:2.68px 0">r</b><b style="left:39.41px;top:332px;transform:scaleX(1.046);transform-origin:3.89px 0">o</b><b style="left:47.47px;top:332px;transform:scaleX(1.046);transform-origin:2.05px 0">f</b><b style="left:51.52px;top:332px;transform:scaleX(1.046);transform-origin:1.55px 0">i</b><b style="left:54.80px;top:332px;transform:scaleX(1.046);transform-origin:2.00px 0">t</b><b style="left:62.10px;top:332px;transform:scaleX(1.046);transform-origin:4.05px 0">b</b><b style="left:70.24px;top:332px;transform:scaleX(1.046);transform-origin:3.88px 0">e</b><b style="left:78.30px;top:332px;transform:scaleX(1.046);transform-origin:2.05px 0">f</b><b style="left:82.46px;top:332px;transform:scaleX(1.046);transform-origin:3.89px 0">o</b><b style="left:90.55px;top:332px;transform:scaleX(1.046);transform-origin:2.68px 0">r</b><b style="left:95.48px;top:332px;transform:scaleX(1.046);transform-origin:3.88px 0">e</b><b style="left:106.68px;top:332px;transform:scaleX(1.046);transform-origin:2.00px 0">t</b><b style="left:110.85px;top:332px;transform:scaleX(1.046);transform-origin:4.19px 0">a</b><b style="left:118.97px;top:332px;transform:scaleX(1.046);transform-origin:3.50px 0">x</b><b style="left:126.31px;top:332px;transform:scaleX(1.046);transform-origin:3.88px 0">e</b><b style="left:134.44px;top:332px;transform:scaleX(1.046);transform-origin:3.44px 0">s</b><b style="left:141.33px;top:332px;transform:scaleX(0.859);transform-origin:1.94px 0">,</b><b style="left:147.56px;top:332px;transform:scaleX(0.910);transform-origin:5.83px 0">M</b><b style="left:158.25px;top:332px;transform:scaleX(0.910);transform-origin:4.94px 0">E</b><b style="left:166.74px;top:332px;transform:scaleX(0.910);transform-origin:5.06px 0">U</b><b style="left:175.91px;top:332px;transform:scaleX(0.910);transform-origin:5.30px 0">R</b>
<b class="o" style="left:344.14px;top:332px">1</b><b style="left:349.90px;top:332px">3</b><b style="left:358.34px;top:332px">7</b><b style="left:365.95px;top:332px">.</b><b style="left:369.62px;top:332px">5</b>
<b class="o" style="left:408.99px;top:332px">1</b><b style="left:414.52px;top:332px">3</b><b style="left:423.25px;top:332px;transform:scaleX(1.08);transform-origin:3.85px 0">4</b><b style="left:431.20px;top:332px">.</b><b style="left:435.34px;top:332px;transform:scaleX(1.08);transform-origin:3.85px 0">4</b>
<b style="left:456.84px;top:332px">2</b><b style="left:464.61px;top:332px">.</b><b style="left:468.64px;top:332px">3</b>
<b style="left:522.69px;top:332px">3</b><b style="left:531.06px;top:332px">6</b><b style="left:539.62px;top:332px">7</b><b style="left:547.11px;top:332px">.</b><b style="left:550.81px;top:332px">8</b>
<b style="left:585.71px;top:332px">3</b><b style="left:594.77px;top:332px;transform:scaleX(1.08);transform-origin:3.85px 0">4</b><b style="left:603.79px;top:332px">5</b><b style="left:611.25px;top:332px">.</b><b style="left:614.98px;top:332px">8</b>
<b style="left:635.66px;top:332px">6</b><b style="left:643.48px;top:332px">.</b><b style="left:647.94px;top:332px;transform:scaleX(1.08);transform-origin:3.85px 0">4</b>
<b style="left:702.90px;top:332px">5</b><b style="left:712.09px;top:332px;transform:scaleX(1.2);transform-origin:3.89px 0">0</b><b style="left:721.33px;top:332px">7</b><b style="left:728.73px;top:332px">.</b><b style="left:732.08px;top:332px">2</b>
<b style="left:751.89px;top:332px;transform:scaleX(1.08);transform-origin:3.85px 0">4</b><b style="left:760.78px;top:332px">8</b><b style="left:769.02px;top:332px">5</b><b style="left:776.32px;top:332px">.</b><b style="left:779.78px;top:332px">3</b>
<b style="left:25.46px;top:353px;transform:scaleX(0.926);transform-origin:5.06px 0">N</b><b style="left:35.45px;top:353px;transform:scaleX(1.065);transform-origin:3.88px 0">e</b><b style="left:43.61px;top:353px;transform:scaleX(1.065);transform-origin:2.00px 0">t</b><b style="left:51.08px;top:353px;transform:scaleX(1.065);transform-origin:4.05px 0">p</b><b style="left:59.28px;top:353px;transform:scaleX(1.065);transform-origin:2.68px 0">r</b><b style="left:64.32px;top:353px;transform:scaleX(1.065);transform-origin:3.89px 0">o</b><b style="left:72.49px;top:353px;transform:scaleX(1.065);transform-origin:2.05px 0">f</b><b style="left:76.60px;top:353px;transform:scaleX(1.065);transform-origin:1.55px 0">i</b><b style="left:79.94px;top:353px;transform:scaleX(1.065);transform-origin:2.00px 0">t</b><b style="left:87.27px;top:353px;transform:scaleX(1.065);transform-origin:2.05px 0">f</b><b style="left:91.53px;top:353px;transform:scaleX(1.065);transform-origin:3.89px 0">o</b><b style="left:99.74px;top:353px;transform:scaleX(1.065);transform-origin:2.68px 0">r</b><b style="left:107.85px;top:353px;transform:scaleX(1.065);transform-origin:2.00px 0">t</b><b style="left:112.11px;top:353px;transform:scaleX(1.065);transform-origin:3.92px 0">h</b><b style="left:120.40px;top:353px;transform:scaleX(1.065);transform-origin:3.88px 0">e</b><b style="left:131.89px;top:353px;transform:scaleX(1.065);transform-origin:4.05px 0">p</b><b style="left:140.16px;top:353px;transform:scaleX(1.065);transform-origin:3.88px 0">e</b><b style="left:148.37px;top:353px;transform:scaleX(1.065);transform-origin:2.68px 0">r</b><b style="left:153.27px;top:353px;transform:scaleX(1.065);transform-origin:1.55px 0">i</b><b style="left:156.73px;top:353px;transform:scaleX(1.065);transform-origin:3.89px 0">o</b><b style="left:165.01px;top:353px;transform:scaleX(1.065);transform-origin:3.74px 0">d</b><b style="left:172.81px;top:353px;transform:scaleX(0.874);transform-origin:1.94px 0">,</b><b style="left:179.21px;top:353px;transform:scaleX(0.926);transform-origin:5.83px 0">M</b><b style="left:190.07px;top:353px;transform:scaleX(0.926);transform-origin:4.94px 0">E</b><b style="left:198.71px;top:353px;transform:scaleX(0.926);transform-origin:5.06px 0">U</b><b style="left:208.05px;top:353px;transform:scaleX(0.926);transform-origin:5.30px 0">R</b>
<b class="o" style="left:344.21px;top:353px">1</b><b style="left:351.18px;top:353px;transform:scaleX(1.2);transform-origin:3.89px 0">0</b><b style="left:360.98px;top:353px">3</b><b style="left:368.61px;top:353px">.</b><b style="left:372.55px;top:353px">8</b>
<b class="o" style="left:409.38px;top:353px">1</b><b style="left:416.66px;top:353px;transform:scaleX(1.2);transform-origin:3.89px 0">0</b><b class="o" style="left:425.65px;top:353px">1</b><b style="left:430.64px;top:353px">.</b><b class="o" style="left:433.44px;top:353px">1</b>
<b style="left:456.58px;top:353px">2</b><b style="left:463.90px;top:353px">.</b><b style="left:467.47px;top:353px">7</b>
<b style="left:522.32px;top:353px">2</b><b style="left:530.07px;top:353px">7</b><b style="left:537.97px;top:353px">7</b><b style="left:545.16px;top:353px">.</b><b style="left:548.44px;top:353px">7</b>
<b style="left:585.59px;top:353px">2</b><b style="left:594.18px;top:353px">6</b><b style="left:604.11px;top:353px;transform:scaleX(1.2);transform-origin:3.89px 0">0</b><b style="left:612.86px;top:353px">.</b><b class="o" style="left:615.34px;top:353px">1</b>
<b style="left:635.86px;top:353px">6</b><b style="left:644.04px;top:353px">.</b><b style="left:648.21px;top:353px">8</b>
<b style="left:703.12px;top:353px">3</b><b style="left:711.57px;top:353px">8</b><b style="left:720.23px;top:353px">6</b><b style="left:727.98px;top:353px">.</b><b style="left:732.68px;top:353px;transform:scaleX(1.2);transform-origin:3.89px 0">0</b>
<b style="left:751.03px;top:353px">3</b><b style="left:758.98px;top:353px">6</b><b style="left:767.22px;top:353px">8</b><b style="left:774.53px;top:353px">.</b><b style="left:778.53px;top:353px;transform:scaleX(1.08);transform-origin:3.85px 0">4</b>
<b style="left:25.28px;top:374px;transform:scaleX(0.875);transform-origin:4.94px 0">E</b><b style="left:34.10px;top:374px;transform:scaleX(1.007);transform-origin:4.19px 0">a</b><b style="left:41.92px;top:374px;transform:scaleX(1.007);transform-origin:2.68px 0">r</b><b style="left:46.62px;top:374px;transform:scaleX(1.007);transform-origin:3.90px 0">n</b><b style="left:54.45px;top:374px;transform:scaleX(1.007);transform-origin:1.55px 0">i</b><b style="left:57.59px;top:374px;transform:scaleX(1.007);transform-origin:3.90px 0">n</b><b style="left:65.43px;top:374px;transform:scaleX(1.007);transform-origin:3.74px 0">g</b><b style="left:73.26px;top:374px;transform:scaleX(1.007);transform-origin:3.44px 0">s</b><b style="left:83.33px;top:374px;transform:scaleX(1.007);transform-origin:4.05px 0">p</b><b style="left:91.17px;top:374px;transform:scaleX(1.007);transform-origin:3.88px 0">e</b><b style="left:99.00px;top:374px;transform:scaleX(1.007);transform-origin:2.68px 0">r</b><b style="left:106.71px;top:374px;transform:scaleX(1.007);transform-origin:3.44px 0">s</b><b style="left:113.76px;top:374px;transform:scaleX(1.007);transform-origin:3.92px 0">h</b><b style="left:121.60px;top:374px;transform:scaleX(1.007);transform-origin:4.19px 0">a</b><b style="left:129.42px;top:374px;transform:scaleX(1.007);transform-origin:2.68px 0">r</b><b style="left:134.13px;top:374px;transform:scaleX(1.007);transform-origin:3.88px 0">e</b><b style="left:141.60px;top:374px;transform:scaleX(0.827);transform-origin:1.94px 0">,</b><b style="left:148.19px;top:374px;transform:scaleX(1.007);transform-origin:4.05px 0">b</b><b style="left:156.03px;top:374px;transform:scaleX(1.007);transform-origin:4.19px 0">a</b><b style="left:163.86px;top:374px;transform:scaleX(1.007);transform-origin:3.44px 0">s</b><b style="left:170.90px;top:374px;transform:scaleX(1.007);transform-origin:1.55px 0">i</b><b style="left:174.04px;top:374px;transform:scaleX(1.007);transform-origin:3.61px 0">c</b><b style="left:180.73px;top:374px;transform:scaleX(0.827);transform-origin:1.94px 0">,</b><b style="left:186.68px;top:374px;transform:scaleX(0.875);transform-origin:4.94px 0">E</b><b style="left:194.84px;top:374px;transform:scaleX(0.875);transform-origin:5.06px 0">U</b><b style="left:203.66px;top:374px;transform:scaleX(0.875);transform-origin:5.30px 0">R</b>
<b class="o" style="left:344.43px;top:374px">1</b><b style="left:349.46px;top:374px">.</b><b style="left:353.66px;top:374px">3</b><b class="o" style="left:361.54px;top:374px">1</b>
<b class="o" style="left:409.28px;top:374px">1</b><b style="left:414.22px;top:374px">.</b><b style="left:418.01px;top:374px">2</b><b style="left:426.87px;top:374px">8</b>
<b style="left:456.58px;top:374px">2</b><b style="left:463.90px;top:374px">.</b><b style="left:467.47px;top:374px">7</b>
<b style="left:523.10px;top:374px">3</b><b style="left:531.19px;top:374px">.</b><b style="left:535.43px;top:374px">5</b><b class="o" style="left:543.44px;top:374px">1</b>
<b style="left:585.89px;top:374px">3</b><b style="left:593.61px;top:374px">.</b><b style="left:597.38px;top:374px">2</b><b style="left:606.19px;top:374px">8</b>
<b style="left:635.86px;top:374px">6</b><b style="left:644.04px;top:374px">.</b><b style="left:648.21px;top:374px">8</b>
<b style="left:703.75px;top:374px;transform:scaleX(1.08);transform-origin:3.85px 0">4</b><b style="left:711.67px;top:374px">.</b><b style="left:715.18px;top:374px">8</b><b style="left:723.36px;top:374px">7</b>
<b style="left:751.81px;top:374px;transform:scaleX(1.08);transform-origin:3.85px 0">4</b><b style="left:759.67px;top:374px">.</b><b style="left:763.14px;top:374px">6</b><b style="left:771.31px;top:374px">5</b>
<b style="left:25.30px;top:395px;transform:scaleX(0.881);transform-origin:4.94px 0">E</b><b style="left:34.18px;top:395px;transform:scaleX(1.014);transform-origin:4.19px 0">a</b><b style="left:42.05px;top:395px;transform:scaleX(1.014);transform-origin:2.68px 0">r</b><b style="left:46.79px;top:395px;transform:scaleX(1.014);transform-origin:3.90px 0">n</b><b style="left:54.65px;top:395px;transform:scaleX(1.014);transform-origin:1.55px 0">i</b><b style="left:57.84px;top:395px;transform:scaleX(1.014);transform-origin:3.90px 0">n</b><b style="left:65.73px;top:395px;transform:scaleX(1.014);transform-origin:3.74px 0">g</b><b style="left:73.62px;top:395px;transform:scaleX(1.014);transform-origin:3.44px 0">s</b><b style="left:83.76px;top:395px;transform:scaleX(1.014);transform-origin:4.05px 0">p</b><b style="left:91.65px;top:395px;transform:scaleX(1.014);transform-origin:3.88px 0">e</b><b style="left:99.52px;top:395px;transform:scaleX(1.014);transform-origin:2.68px 0">r</b><b style="left:107.30px;top:395px;transform:scaleX(1.014);transform-origin:3.44px 0">s</b><b style="left:114.40px;top:395px;transform:scaleX(1.014);transform-origin:3.92px 0">h</b><b style="left:122.29px;top:395px;transform:scaleX(1.014);transform-origin:4.19px 0">a</b><b style="left:130.17px;top:395px;transform:scaleX(1.014);transform-origin:2.68px 0">r</b><b style="left:134.91px;top:395px;transform:scaleX(1.014);transform-origin:3.88px 0">e</b><b style="left:142.42px;top:395px;transform:scaleX(0.833);transform-origin:1.94px 0">,</b><b style="left:149.07px;top:395px;transform:scaleX(1.014);transform-origin:3.74px 0">d</b><b style="left:156.94px;top:395px;transform:scaleX(1.014);transform-origin:1.55px 0">i</b><b style="left:160.09px;top:395px;transform:scaleX(1.014);transform-origin:1.56px 0">l</b><b style="left:163.27px;top:395px;transform:scaleX(1.014);transform-origin:3.88px 0">u</b><b style="left:171.14px;top:395px;transform:scaleX(1.014);transform-origin:2.00px 0">t</b><b style="left:175.11px;top:395px;transform:scaleX(1.014);transform-origin:3.88px 0">e</b><b style="left:183.00px;top:395px;transform:scaleX(1.014);transform-origin:3.74px 0">d</b><b style="left:190.52px;top:395px;transform:scaleX(0.833);transform-origin:1.94px 0">,</b><b style="left:196.53px;top:395px;transform:scaleX(0.881);transform-origin:4.94px 0">E</b><b style="left:204.75px;top:395px;transform:scaleX(0.881);transform-origin:5.06px 0">U</b><b style="left:213.63px;top:395px;transform:scaleX(0.881);transform-origin:5.30px 0">R</b>
<b class="o" style="left:344.43px;top:395px">1</b><b style="left:349.46px;top:395px">.</b><b style="left:353.66px;top:395px">3</b><b class="o" style="left:361.54px;top:395px">1</b>
<b class="o" style="left:409.23px;top:395px">1</b><b style="left:414.12px;top:395px">.</b><b style="left:417.81px;top:395px">2</b><b style="left:426.40px;top:395px">7</b>
<b style="left:456.83px;top:395px">2</b><b style="left:464.59px;top:395px">.</b><b style="left:468.62px;top:395px">9</b>
<b style="left:522.83px;top:395px">3</b><b style="left:530.47px;top:395px">.</b><b style="left:534.27px;top:395px">5</b><b style="left:544.02px;top:395px;transform:scaleX(1.2);transform-origin:3.89px 0">0</b>
<b style="left:585.89px;top:395px">3</b><b style="left:593.61px;top:395px">.</b><b style="left:597.38px;top:395px">2</b><b style="left:606.19px;top:395px">8</b>
<b style="left:635.93px;top:395px">6</b><b style="left:644.23px;top:395px">.</b><b style="left:648.42px;top:395px">9</b>
<b style="left:703.85px;top:395px;transform:scaleX(1.08);transform-origin:3.85px 0">4</b><b style="left:711.94px;top:395px">.</b><b style="left:715.61px;top:395px">8</b><b style="left:724.14px;top:395px">6</b>
<b style="left:751.79px;top:395px;transform:scaleX(1.08);transform-origin:3.85px 0">4</b><b style="left:759.64px;top:395px">.</b><b style="left:763.08px;top:395px">6</b><b style="left:771.25px;top:395px">3</b>
<b style="left:25.71px;top:416px;transform:scaleX(0.893);transform-origin:5.27px 0">G</b><b style="left:36.11px;top:416px;transform:scaleX(1.027);transform-origin:3.88px 0">e</b><b style="left:44.11px;top:416px;transform:scaleX(1.027);transform-origin:4.19px 0">a</b><b style="left:52.07px;top:416px;transform:scaleX(1.027);transform-origin:2.68px 0">r</b><b style="left:56.83px;top:416px;transform:scaleX(1.027);transform-origin:1.55px 0">i</b><b style="left:60.09px;top:416px;transform:scaleX(1.027);transform-origin:3.90px 0">n</b><b style="left:68.08px;top:416px;transform:scaleX(1.027);transform-origin:3.74px 0">g</b><b style="left:75.68px;top:416px;transform:scaleX(0.844);transform-origin:1.94px 0">,</b><b style="left:82.29px;top:416px;transform:scaleX(0.993);transform-origin:6.22px 0">%</b>
<b style="left:522.84px;top:416px">-</b><b class="o" style="left:527.82px;top:416px">1</b><b style="left:532.72px;top:416px">.</b><b style="left:536.71px;top:416px">6</b><b style="left:546.34px;top:416px">%</b>
<b class="o" style="left:584.64px;top:416px">1</b><b style="left:590.21px;top:416px">5</b><b style="left:597.56px;top:416px">.</b><b style="left:601.80px;top:416px;transform:scaleX(1.08);transform-origin:3.85px 0">4</b><b style="left:611.14px;top:416px">%</b>
<b style="left:751.08px;top:416px">9</b><b style="left:758.44px;top:416px">.</b><b style="left:761.90px;top:416px">9</b><b style="left:770.50px;top:416px">%</b>
<b class="o" style="left:260.24px;top:437px">1</b><b style="left:25.46px;top:437px;transform:scaleX(0.926);transform-origin:5.06px 0">N</b><b style="left:35.45px;top:437px;transform:scaleX(1.065);transform-origin:3.88px 0">e</b><b style="left:43.62px;top:437px;transform:scaleX(1.065);transform-origin:2.00px 0">t</b><b style="left:51.07px;top:437px;transform:scaleX(1.065);transform-origin:3.74px 0">d</b><b style="left:59.37px;top:437px;transform:scaleX(1.065);transform-origin:3.88px 0">e</b><b style="left:67.68px;top:437px;transform:scaleX(1.065);transform-origin:4.05px 0">b</b><b style="left:75.83px;top:437px;transform:scaleX(1.065);transform-origin:2.00px 0">t</b><b style="left:83.09px;top:437px;transform:scaleX(1.029);transform-origin:1.94px 0">/</b><b style="left:89.85px;top:437px;transform:scaleX(0.926);transform-origin:5.14px 0">C</b><b style="left:99.85px;top:437px;transform:scaleX(1.065);transform-origin:3.89px 0">o</b><b style="left:108.27px;top:437px;transform:scaleX(1.065);transform-origin:5.83px 0">m</b><b style="left:120.57px;top:437px;transform:scaleX(1.065);transform-origin:4.05px 0">p</b><b style="left:128.87px;top:437px;transform:scaleX(1.065);transform-origin:4.19px 0">a</b><b style="left:137.07px;top:437px;transform:scaleX(1.065);transform-origin:2.68px 0">r</b><b style="left:142.13px;top:437px;transform:scaleX(1.065);transform-origin:4.19px 0">a</b><b style="left:150.42px;top:437px;transform:scaleX(1.065);transform-origin:4.05px 0">b</b><b style="left:158.55px;top:437px;transform:scaleX(1.065);transform-origin:1.56px 0">l</b><b style="left:162.01px;top:437px;transform:scaleX(1.065);transform-origin:3.88px 0">e</b><b style="left:172.88px;top:437px;transform:scaleX(0.926);transform-origin:4.94px 0">E</b><b style="left:181.53px;top:437px;transform:scaleX(0.926);transform-origin:4.87px 0">B</b><b style="left:190.39px;top:437px;transform:scaleX(0.926);transform-origin:1.94px 0">I</b><b style="left:193.82px;top:437px;transform:scaleX(0.926);transform-origin:4.27px 0">T</b><b style="left:201.67px;top:437px;transform:scaleX(0.926);transform-origin:5.29px 0">D</b><b style="left:211.08px;top:437px;transform:scaleX(0.926);transform-origin:4.67px 0">A</b><b style="left:219.83px;top:437px;transform:scaleX(0.875);transform-origin:1.94px 0">,</b><b style="left:226.27px;top:437px;transform:scaleX(0.926);transform-origin:5.30px 0">R</b><b class="o" style="left:235.09px;top:437px">1</b><b style="left:240.46px;top:437px;transform:scaleX(1.029);transform-origin:3.89px 0">2</b><b style="left:247.93px;top:437px;transform:scaleX(0.926);transform-origin:5.83px 0">M</b>
<b style="left:523.87px;top:437px;transform:scaleX(1.2);transform-origin:3.89px 0">0</b><b style="left:532.51px;top:437px">.</b><b style="left:537.25px;top:437px;transform:scaleX(1.2);transform-origin:3.89px 0">0</b>
<b style="left:586.86px;top:437px;transform:scaleX(1.2);transform-origin:3.89px 0">0</b><b style="left:595.48px;top:437px">.</b><b style="left:599.87px;top:437px;transform:scaleX(1.08);transform-origin:3.85px 0">4</b>
<b style="left:752.39px;top:437px;transform:scaleX(1.2);transform-origin:3.89px 0">0</b><b style="left:761.05px;top:437px">.</b><b style="left:764.74px;top:437px">3</b>
<b style="left:25.35px;top:458px;transform:scaleX(0.903);transform-origin:5.30px 0">R</b><b style="left:35.15px;top:458px;transform:scaleX(1.039);transform-origin:3.88px 0">e</b><b style="left:43.16px;top:458px;transform:scaleX(1.039);transform-origin:2.00px 0">t</b><b style="left:47.28px;top:458px;transform:scaleX(1.039);transform-origin:3.88px 0">u</b><b style="left:55.32px;top:458px;transform:scaleX(1.039);transform-origin:2.68px 0">r</b><b style="left:60.21px;top:458px;transform:scaleX(1.039);transform-origin:3.90px 0">n</b><b style="left:71.41px;top:458px;transform:scaleX(1.039);transform-origin:3.89px 0">o</b><b style="left:79.50px;top:458px;transform:scaleX(1.039);transform-origin:3.90px 0">n</b><b style="left:90.69px;top:458px;transform:scaleX(1.039);transform-origin:3.61px 0">c</b><b style="left:97.99px;top:458px;transform:scaleX(1.039);transform-origin:4.19px 0">a</b><b style="left:106.07px;top:458px;transform:scaleX(1.039);transform-origin:4.05px 0">p</b><b style="left:114.06px;top:458px;transform:scaleX(1.039);transform-origin:1.55px 0">i</b><b style="left:117.31px;top:458px;transform:scaleX(1.039);transform-origin:2.00px 0">t</b><b style="left:121.44px;top:458px;transform:scaleX(1.039);transform-origin:4.19px 0">a</b><b style="left:129.43px;top:458px;transform:scaleX(1.039);transform-origin:1.56px 0">l</b><b style="left:135.86px;top:458px;transform:scaleX(1.039);transform-origin:3.88px 0">e</b><b style="left:144.03px;top:458px;transform:scaleX(1.039);transform-origin:5.83px 0">m</b><b style="left:156.07px;top:458px;transform:scaleX(1.039);transform-origin:4.05px 0">p</b><b style="left:164.07px;top:458px;transform:scaleX(1.039);transform-origin:1.56px 0">l</b><b style="left:167.39px;top:458px;transform:scaleX(1.039);transform-origin:3.89px 0">o</b><b style="left:175.46px;top:458px;transform:scaleX(1.039);transform-origin:3.50px 0">y</b><b style="left:182.75px;top:458px;transform:scaleX(1.039);transform-origin:3.88px 0">e</b><b style="left:190.83px;top:458px;transform:scaleX(1.039);transform-origin:3.74px 0">d</b><b style="left:198.49px;top:458px;transform:scaleX(0.853);transform-origin:1.94px 0">,</b><b style="left:205.23px;top:458px">%</b><b style="left:217.42px;top:458px;transform:scaleX(0.853);transform-origin:1.94px 0">,</b><b style="left:223.62px;top:458px;transform:scaleX(0.903);transform-origin:5.30px 0">R</b><b class="o" style="left:232.28px;top:458px">1</b><b style="left:237.50px;top:458px">2</b><b style="left:244.74px;top:458px;transform:scaleX(0.903);transform-origin:5.83px 0">M</b>
<b style="left:702.79px;top:458px">2</b><b style="left:711.74px;top:458px;transform:scaleX(1.2);transform-origin:3.89px 0">0</b><b style="left:720.05px;top:458px">.</b><b style="left:724.16px;top:458px;transform:scaleX(1.08);transform-origin:3.85px 0">4</b><b style="left:733.26px;top:458px">%</b>
<b style="left:750.98px;top:458px">2</b><b style="left:760.19px;top:458px;transform:scaleX(1.2);transform-origin:3.89px 0">0</b><b style="left:768.70px;top:458px">.</b><b style="left:772.26px;top:458px">3</b><b style="left:780.98px;top:458px">%</b>
<b style="left:336.21px;top:479px">2</b><b style="left:25.78px;top:479px;transform:scaleX(0.907);transform-origin:5.14px 0">C</b><b style="left:35.60px;top:479px;transform:scaleX(1.043);transform-origin:3.89px 0">o</b><b style="left:43.81px;top:479px;transform:scaleX(1.043);transform-origin:5.83px 0">m</b><b style="left:55.90px;top:479px;transform:scaleX(1.043);transform-origin:4.05px 0">p</b><b style="left:64.03px;top:479px;transform:scaleX(1.043);transform-origin:4.19px 0">a</b><b style="left:72.09px;top:479px;transform:scaleX(1.043);transform-origin:2.68px 0">r</b><b style="left:77.02px;top:479px;transform:scaleX(1.043);transform-origin:4.19px 0">a</b><b style="left:85.14px;top:479px;transform:scaleX(1.043);transform-origin:4.05px 0">b</b><b style="left:93.15px;top:479px;transform:scaleX(1.043);transform-origin:1.56px 0">l</b><b style="left:96.50px;top:479px;transform:scaleX(1.043);transform-origin:3.88px 0">e</b><b style="left:107.70px;top:479px;transform:scaleX(1.043);transform-origin:2.68px 0">r</b><b style="left:112.61px;top:479px;transform:scaleX(1.043);transform-origin:3.88px 0">e</b><b style="left:120.66px;top:479px;transform:scaleX(1.043);transform-origin:2.00px 0">t</b><b style="left:124.80px;top:479px;transform:scaleX(1.043);transform-origin:3.88px 0">u</b><b style="left:132.87px;top:479px;transform:scaleX(1.043);transform-origin:2.68px 0">r</b><b style="left:137.79px;top:479px;transform:scaleX(1.043);transform-origin:3.90px 0">n</b><b style="left:149.04px;top:479px;transform:scaleX(1.043);transform-origin:3.89px 0">o</b><b style="left:157.16px;top:479px;transform:scaleX(1.043);transform-origin:3.90px 0">n</b><b style="left:168.40px;top:479px;transform:scaleX(1.043);transform-origin:3.61px 0">c</b><b style="left:175.73px;top:479px;transform:scaleX(1.043);transform-origin:4.19px 0">a</b><b style="left:183.85px;top:479px;transform:scaleX(1.043);transform-origin:4.05px 0">p</b><b style="left:191.86px;top:479px;transform:scaleX(1.043);transform-origin:1.55px 0">i</b><b style="left:195.13px;top:479px;transform:scaleX(1.043);transform-origin:2.00px 0">t</b><b style="left:199.28px;top:479px;transform:scaleX(1.043);transform-origin:4.19px 0">a</b><b style="left:207.29px;top:479px;transform:scaleX(1.043);transform-origin:1.56px 0">l</b><b style="left:213.76px;top:479px;transform:scaleX(1.043);transform-origin:3.88px 0">e</b><b style="left:221.97px;top:479px;transform:scaleX(1.043);transform-origin:5.83px 0">m</b><b style="left:234.06px;top:479px;transform:scaleX(1.043);transform-origin:4.05px 0">p</b><b style="left:242.08px;top:479px;transform:scaleX(1.043);transform-origin:1.56px 0">l</b><b style="left:245.43px;top:479px;transform:scaleX(1.043);transform-origin:3.89px 0">o</b><b style="left:253.53px;top:479px;transform:scaleX(1.043);transform-origin:3.50px 0">y</b><b style="left:260.86px;top:479px;transform:scaleX(1.043);transform-origin:3.88px 0">e</b><b style="left:268.97px;top:479px;transform:scaleX(1.043);transform-origin:3.74px 0">d</b><b style="left:276.66px;top:479px;transform:scaleX(0.857);transform-origin:1.94px 0">,</b><b style="left:283.44px;top:479px;transform:scaleX(1.008);transform-origin:6.22px 0">%</b><b style="left:295.67px;top:479px;transform:scaleX(0.857);transform-origin:1.94px 0">,</b><b style="left:301.91px;top:479px;transform:scaleX(0.907);transform-origin:5.30px 0">R</b><b class="o" style="left:310.59px;top:479px">1</b><b style="left:315.84px;top:479px;transform:scaleX(1.008);transform-origin:3.89px 0">2</b><b style="left:323.12px;top:479px;transform:scaleX(0.907);transform-origin:5.83px 0">M</b>
<b style="left:702.89px;top:479px">2</b><b class="o" style="left:709.81px;top:479px">1</b><b style="left:714.61px;top:479px">.</b><b style="left:718.20px;top:479px">7</b><b style="left:727.06px;top:479px">%</b>
<b style="left:750.96px;top:479px">2</b><b style="left:760.10px;top:479px;transform:scaleX(1.2);transform-origin:3.89px 0">0</b><b style="left:768.56px;top:479px">.</b><b style="left:772.20px;top:479px">8</b><b style="left:781.03px;top:479px">%</b>
<b style="left:25.35px;top:500px;transform:scaleX(0.884);transform-origin:4.57px 0">F</b><b style="left:33.49px;top:500px;transform:scaleX(1.016);transform-origin:2.68px 0">r</b><b style="left:38.24px;top:500px;transform:scaleX(1.016);transform-origin:3.88px 0">e</b><b style="left:46.16px;top:500px;transform:scaleX(1.016);transform-origin:3.88px 0">e</b><b style="left:57.11px;top:500px;transform:scaleX(1.016);transform-origin:3.61px 0">c</b><b style="left:64.23px;top:500px;transform:scaleX(1.016);transform-origin:4.19px 0">a</b><b style="left:72.14px;top:500px;transform:scaleX(1.016);transform-origin:3.44px 0">s</b><b style="left:79.26px;top:500px;transform:scaleX(1.016);transform-origin:3.92px 0">h</b><b style="left:90.18px;top:500px;transform:scaleX(1.016);transform-origin:2.05px 0">f</b><b style="left:94.13px;top:500px;transform:scaleX(1.016);transform-origin:1.56px 0">l</b><b style="left:97.33px;top:500px;transform:scaleX(1.016);transform-origin:3.89px 0">o</b><b style="left:105.26px;top:500px;transform:scaleX(1.016);transform-origin:5.06px 0">w</b><b style="left:115.13px;top:500px;transform:scaleX(0.835);transform-origin:1.94px 0">,</b><b style="left:121.07px;top:500px;transform:scaleX(0.884);transform-origin:5.83px 0">M</b><b style="left:131.48px;top:500px;transform:scaleX(0.884);transform-origin:4.94px 0">E</b><b style="left:139.72px;top:500px;transform:scaleX(0.884);transform-origin:5.06px 0">U</b><b style="left:148.62px;top:500px;transform:scaleX(0.884);transform-origin:5.30px 0">R</b>
<b style="left:345.03px;top:500px">2</b><b class="o" style="left:352.29px;top:500px">1</b><b style="left:358.92px;top:500px;transform:scaleX(1.08);transform-origin:3.85px 0">4</b><b style="left:367.32px;top:500px">.</b><b style="left:370.99px;top:500px">2</b>
<b class="o" style="left:409.09px;top:500px">1</b><b style="left:414.89px;top:500px">8</b><b style="left:423.39px;top:500px">7</b><b style="left:430.91px;top:500px">.</b><b class="o" style="left:433.24px;top:500px">1</b>
<b style="left:522.81px;top:500px">3</b><b style="left:531.39px;top:500px">9</b><b class="o" style="left:538.76px;top:500px">1</b><b style="left:543.63px;top:500px">.</b><b style="left:548.18px;top:500px;transform:scaleX(1.08);transform-origin:3.85px 0">4</b>
<b style="left:585.36px;top:500px">2</b><b style="left:593.17px;top:500px">5</b><b style="left:601.10px;top:500px">7</b><b style="left:608.36px;top:500px">.</b><b style="left:612.40px;top:500px;transform:scaleX(1.08);transform-origin:3.85px 0">4</b>
<b style="left:703.19px;top:500px">5</b><b style="left:712.22px;top:500px">6</b><b class="o" style="left:720.11px;top:500px">1</b><b style="left:725.06px;top:500px">.</b><b style="left:728.89px;top:500px">2</b>
<b style="left:751.82px;top:500px;transform:scaleX(1.08);transform-origin:3.85px 0">4</b><b style="left:760.33px;top:500px">2</b><b style="left:768.22px;top:500px">7</b><b style="left:775.51px;top:500px">.</b><b style="left:778.74px;top:500px">2</b>
<b style="left:26.38px;top:521px;transform:scaleX(0.894);transform-origin:4.67px 0">A</b><b style="left:35.32px;top:521px;transform:scaleX(1.028);transform-origin:3.50px 0">v</b><b style="left:42.53px;top:521px;transform:scaleX(1.028);transform-origin:3.88px 0">e</b><b style="left:50.51px;top:521px;transform:scaleX(1.028);transform-origin:2.68px 0">r</b><b style="left:55.34px;top:521px;transform:scaleX(1.028);transform-origin:4.19px 0">a</b><b style="left:63.34px;top:521px;transform:scaleX(1.028);transform-origin:3.74px 0">g</b><b style="left:71.35px;top:521px;transform:scaleX(1.028);transform-origin:3.88px 0">e</b><b style="left:82.44px;top:521px;transform:scaleX(1.028);transform-origin:3.90px 0">n</b><b style="left:90.44px;top:521px;transform:scaleX(1.028);transform-origin:3.88px 0">u</b><b style="left:98.50px;top:521px;transform:scaleX(1.028);transform-origin:5.83px 0">m</b><b style="left:110.45px;top:521px;transform:scaleX(1.028);transform-origin:4.05px 0">b</b><b style="left:118.45px;top:521px;transform:scaleX(1.028);transform-origin:3.88px 0">e</b><b style="left:126.42px;top:521px;transform:scaleX(1.028);transform-origin:2.68px 0">r</b><b style="left:134.33px;top:521px;transform:scaleX(1.028);transform-origin:3.89px 0">o</b><b style="left:142.28px;top:521px;transform:scaleX(1.028);transform-origin:2.05px 0">f</b><b style="left:149.42px;top:521px;transform:scaleX(1.028);transform-origin:4.05px 0">p</b><b style="left:157.42px;top:521px;transform:scaleX(1.028);transform-origin:3.88px 0">e</b><b style="left:165.39px;top:521px;transform:scaleX(1.028);transform-origin:2.68px 0">r</b><b style="left:170.21px;top:521px;transform:scaleX(1.028);transform-origin:3.44px 0">s</b><b style="left:177.42px;top:521px;transform:scaleX(1.028);transform-origin:3.89px 0">o</b><b style="left:185.43px;top:521px;transform:scaleX(1.028);transform-origin:3.90px 0">n</b><b style="left:193.43px;top:521px;transform:scaleX(1.028);transform-origin:3.90px 0">n</b><b style="left:201.44px;top:521px;transform:scaleX(1.028);transform-origin:3.88px 0">e</b><b style="left:209.38px;top:521px;transform:scaleX(1.028);transform-origin:1.56px 0">l</b><b style="left:215.72px;top:521px;transform:scaleX(1.028);transform-origin:3.74px 0">d</b><b style="left:223.73px;top:521px;transform:scaleX(1.028);transform-origin:3.88px 0">u</b><b style="left:231.71px;top:521px;transform:scaleX(1.028);transform-origin:2.68px 0">r</b><b style="left:236.47px;top:521px;transform:scaleX(1.028);transform-origin:1.55px 0">i</b><b style="left:239.73px;top:521px;transform:scaleX(1.028);transform-origin:3.90px 0">n</b><b style="left:247.73px;top:521px;transform:scaleX(1.028);transform-origin:3.74px 0">g</b><b style="left:258.77px;top:521px;transform:scaleX(1.028);transform-origin:2.00px 0">t</b><b style="left:262.83px;top:521px;transform:scaleX(1.028);transform-origin:3.92px 0">h</b><b style="left:270.83px;top:521px;transform:scaleX(1.028);transform-origin:3.88px 0">e</b><b style="left:281.92px;top:521px;transform:scaleX(1.028);transform-origin:4.05px 0">p</b><b style="left:289.93px;top:521px;transform:scaleX(1.028);transform-origin:3.88px 0">e</b><b style="left:297.90px;top:521px;transform:scaleX(1.028);transform-origin:2.68px 0">r</b><b style="left:302.66px;top:521px;transform:scaleX(1.028);transform-origin:1.55px 0">i</b><b style="left:305.92px;top:521px;transform:scaleX(1.028);transform-origin:3.89px 0">o</b><b style="left:313.93px;top:521px;transform:scaleX(1.028);transform-origin:3.74px 0">d</b>
<b class="o" style="left:521.64px;top:521px">1</b><b style="left:527.38px;top:521px">6</b><b style="left:535.12px;top:521px">,</b><b style="left:538.87px;top:521px">6</b><b style="left:547.31px;top:521px">5</b><b style="left:556.56px;top:521px;transform:scaleX(1.2);transform-origin:3.89px 0">0</b>
<b class="o" style="left:584.56px;top:521px">1</b><b style="left:590.17px;top:521px">6</b><b style="left:597.75px;top:521px">,</b><b style="left:601.35px;top:521px">6</b><b style="left:610.62px;top:521px;transform:scaleX(1.2);transform-origin:3.89px 0">0</b><b style="left:619.69px;top:521px">9</b>
<b style="left:637.23px;top:521px;transform:scaleX(1.2);transform-origin:3.89px 0">0</b><b style="left:646.25px;top:521px">.</b><b style="left:650.09px;top:521px">2</b>
<b class="o" style="left:750.15px;top:521px">1</b><b style="left:755.90px;top:521px">6</b><b style="left:763.66px;top:521px">,</b><b style="left:767.43px;top:521px">6</b><b style="left:775.90px;top:521px">5</b><b style="left:784.24px;top:521px">6</b>
<b class="o" style="left:24.14px;top:562px">1</b><b style="left:29.31px;top:562px;transform:scaleX(0.994);transform-origin:1.94px 0">)</b><b style="left:36.52px;top:562px;transform:scaleX(0.894);transform-origin:4.94px 0">E</b><b style="left:45.49px;top:562px;transform:scaleX(1.029);transform-origin:3.50px 0">x</b><b style="left:52.69px;top:562px;transform:scaleX(1.029);transform-origin:3.61px 0">c</b><b style="left:59.83px;top:562px;transform:scaleX(1.029);transform-origin:1.56px 0">l</b><b style="left:63.10px;top:562px;transform:scaleX(1.029);transform-origin:3.88px 0">u</b><b style="left:71.10px;top:562px;transform:scaleX(1.029);transform-origin:3.74px 0">d</b><b style="left:79.05px;top:562px;transform:scaleX(1.029);transform-origin:1.55px 0">i</b><b style="left:82.32px;top:562px;transform:scaleX(1.029);transform-origin:3.90px 0">n</b><b style="left:90.32px;top:562px;transform:scaleX(1.029);transform-origin:3.74px 0">g</b><b style="left:101.35px;top:562px;transform:scaleX(1.029);transform-origin:1.55px 0">i</b><b style="left:104.56px;top:562px;transform:scaleX(1.029);transform-origin:2.00px 0">t</b><b style="left:108.61px;top:562px;transform:scaleX(1.029);transform-origin:3.88px 0">e</b><b style="left:116.68px;top:562px;transform:scaleX(1.029);transform-origin:5.83px 0">m</b><b style="left:128.60px;top:562px;transform:scaleX(1.029);transform-origin:3.44px 0">s</b><b style="left:138.90px;top:562px;transform:scaleX(1.029);transform-origin:4.19px 0">a</b><b style="left:146.85px;top:562px;transform:scaleX(1.029);transform-origin:2.05px 0">f</b><b style="left:150.85px;top:562px;transform:scaleX(1.029);transform-origin:2.05px 0">f</b><b style="left:154.90px;top:562px;transform:scaleX(1.029);transform-origin:3.88px 0">e</b><b style="left:162.90px;top:562px;transform:scaleX(1.029);transform-origin:3.61px 0">c</b><b style="left:170.06px;top:562px;transform:scaleX(1.029);transform-origin:2.00px 0">t</b><b style="left:174.05px;top:562px;transform:scaleX(1.029);transform-origin:1.55px 0">i</b><b style="left:177.31px;top:562px;transform:scaleX(1.029);transform-origin:3.90px 0">n</b><b style="left:185.32px;top:562px;transform:scaleX(1.029);transform-origin:3.74px 0">g</b><b style="left:196.40px;top:562px;transform:scaleX(1.029);transform-origin:3.61px 0">c</b><b style="left:203.61px;top:562px;transform:scaleX(1.029);transform-origin:3.89px 0">o</b><b style="left:211.67px;top:562px;transform:scaleX(1.029);transform-origin:5.83px 0">m</b><b style="left:223.62px;top:562px;transform:scaleX(1.029);transform-origin:4.05px 0">p</b><b style="left:231.63px;top:562px;transform:scaleX(1.029);transform-origin:4.19px 0">a</b><b style="left:239.59px;top:562px;transform:scaleX(1.029);transform-origin:2.68px 0">r</b><b style="left:244.43px;top:562px;transform:scaleX(1.029);transform-origin:4.19px 0">a</b><b style="left:252.43px;top:562px;transform:scaleX(1.029);transform-origin:4.05px 0">b</b><b style="left:260.37px;top:562px;transform:scaleX(1.029);transform-origin:1.55px 0">i</b><b style="left:263.57px;top:562px;transform:scaleX(1.029);transform-origin:1.56px 0">l</b><b style="left:266.77px;top:562px;transform:scaleX(1.029);transform-origin:1.55px 0">i</b><b style="left:269.98px;top:562px;transform:scaleX(1.029);transform-origin:2.00px 0">t</b><b style="left:274.02px;top:562px;transform:scaleX(1.029);transform-origin:3.50px 0">y</b><b style="left:280.82px;top:562px;transform:scaleX(0.845);transform-origin:1.94px 0">,</b><b style="left:287.59px;top:562px;transform:scaleX(1.029);transform-origin:3.44px 0">s</b><b style="left:294.80px;top:562px;transform:scaleX(1.029);transform-origin:3.88px 0">e</b><b style="left:302.81px;top:562px;transform:scaleX(1.029);transform-origin:3.88px 0">e</b><b style="left:313.91px;top:562px;transform:scaleX(1.029);transform-origin:4.19px 0">a</b><b style="left:321.84px;top:562px;transform:scaleX(1.029);transform-origin:1.56px 0">l</b><b style="left:325.09px;top:562px;transform:scaleX(1.029);transform-origin:3.44px 0">s</b><b style="left:332.30px;top:562px;transform:scaleX(1.029);transform-origin:3.89px 0">o</b><b style="left:343.39px;top:562px;transform:scaleX(1.029);transform-origin:3.90px 0">n</b><b style="left:351.40px;top:562px;transform:scaleX(1.029);transform-origin:3.89px 0">o</b><b style="left:359.36px;top:562px;transform:scaleX(1.029);transform-origin:2.00px 0">t</b><b style="left:363.41px;top:562px;transform:scaleX(1.029);transform-origin:3.88px 0">e</b><b class="o" style="left:373.38px;top:562px">1</b><b class="o" style="left:377.55px;top:562px">1</b><b style="left:385.86px;top:562px;transform:scaleX(1.029);transform-origin:1.55px 0">i</b><b style="left:389.13px;top:562px;transform:scaleX(1.029);transform-origin:3.90px 0">n</b><b style="left:400.16px;top:562px;transform:scaleX(1.029);transform-origin:2.00px 0">t</b><b style="left:404.22px;top:562px;transform:scaleX(1.029);transform-origin:3.92px 0">h</b><b style="left:412.22px;top:562px;transform:scaleX(1.029);transform-origin:3.88px 0">e</b><b style="left:423.30px;top:562px;transform:scaleX(1.029);transform-origin:3.44px 0">s</b><b style="left:430.51px;top:562px;transform:scaleX(1.029);transform-origin:3.88px 0">u</b><b style="left:438.58px;top:562px;transform:scaleX(1.029);transform-origin:5.83px 0">m</b><b style="left:450.57px;top:562px;transform:scaleX(1.029);transform-origin:5.83px 0">m</b><b style="left:462.52px;top:562px;transform:scaleX(1.029);transform-origin:4.19px 0">a</b><b style="left:470.48px;top:562px;transform:scaleX(1.029);transform-origin:2.68px 0">r</b><b style="left:475.30px;top:562px;transform:scaleX(1.029);transform-origin:3.50px 0">y</b><b style="left:485.54px;top:562px;transform:scaleX(1.029);transform-origin:2.05px 0">f</b><b style="left:489.53px;top:562px;transform:scaleX(1.029);transform-origin:1.55px 0">i</b><b style="left:492.79px;top:562px;transform:scaleX(1.029);transform-origin:3.90px 0">n</b><b style="left:500.81px;top:562px;transform:scaleX(1.029);transform-origin:4.19px 0">a</b><b style="left:508.81px;top:562px;transform:scaleX(1.029);transform-origin:3.90px 0">n</b><b style="left:516.81px;top:562px;transform:scaleX(1.029);transform-origin:3.61px 0">c</b><b style="left:523.95px;top:562px;transform:scaleX(1.029);transform-origin:1.55px 0">i</b><b style="left:527.22px;top:562px;transform:scaleX(1.029);transform-origin:4.19px 0">a</b><b style="left:535.16px;top:562px;transform:scaleX(1.029);transform-origin:1.56px 0">l</b><b style="left:541.49px;top:562px;transform:scaleX(1.029);transform-origin:3.44px 0">s</b><b style="left:548.65px;top:562px;transform:scaleX(1.029);transform-origin:2.00px 0">t</b><b style="left:552.71px;top:562px;transform:scaleX(1.029);transform-origin:4.19px 0">a</b><b style="left:560.66px;top:562px;transform:scaleX(1.029);transform-origin:2.00px 0">t</b><b style="left:564.71px;top:562px;transform:scaleX(1.029);transform-origin:3.88px 0">e</b><b style="left:572.78px;top:562px;transform:scaleX(1.029);transform-origin:5.83px 0">m</b><b style="left:584.71px;top:562px;transform:scaleX(1.029);transform-origin:3.88px 0">e</b><b style="left:592.72px;top:562px;transform:scaleX(1.029);transform-origin:3.90px 0">n</b><b style="left:600.68px;top:562px;transform:scaleX(1.029);transform-origin:2.00px 0">t</b><b style="left:604.72px;top:562px;transform:scaleX(1.029);transform-origin:3.44px 0">s</b>
<b style="left:24.78px;top:582px">2</b><b style="left:32.55px;top:582px">)</b><b style="left:39.75px;top:582px;transform:scaleX(0.897);transform-origin:5.30px 0">R</b><b style="left:48.80px;top:582px;transform:scaleX(0.897);transform-origin:5.44px 0">O</b><b style="left:58.60px;top:582px;transform:scaleX(0.897);transform-origin:5.14px 0">C</b><b style="left:67.69px;top:582px;transform:scaleX(0.897);transform-origin:4.94px 0">E</b><b style="left:79.78px;top:582px;transform:scaleX(1.031);transform-origin:3.88px 0">e</b><b style="left:87.80px;top:582px;transform:scaleX(1.031);transform-origin:3.50px 0">x</b><b style="left:95.02px;top:582px;transform:scaleX(1.031);transform-origin:3.61px 0">c</b><b style="left:102.18px;top:582px;transform:scaleX(1.031);transform-origin:1.56px 0">l</b><b style="left:105.46px;top:582px;transform:scaleX(1.031);transform-origin:3.88px 0">u</b><b style="left:113.49px;top:582px;transform:scaleX(1.031);transform-origin:3.74px 0">d</b><b style="left:121.45px;top:582px;transform:scaleX(1.031);transform-origin:1.55px 0">i</b><b style="left:124.73px;top:582px;transform:scaleX(1.031);transform-origin:3.90px 0">n</b><b style="left:132.76px;top:582px;transform:scaleX(1.031);transform-origin:3.74px 0">g</b><b style="left:143.81px;top:582px;transform:scaleX(1.031);transform-origin:1.55px 0">i</b><b style="left:147.03px;top:582px;transform:scaleX(1.031);transform-origin:2.00px 0">t</b><b style="left:151.10px;top:582px;transform:scaleX(1.031);transform-origin:3.88px 0">e</b><b style="left:159.19px;top:582px;transform:scaleX(1.031);transform-origin:5.83px 0">m</b><b style="left:171.15px;top:582px;transform:scaleX(1.031);transform-origin:3.44px 0">s</b><b style="left:181.48px;top:582px;transform:scaleX(1.031);transform-origin:4.19px 0">a</b><b style="left:189.44px;top:582px;transform:scaleX(1.031);transform-origin:2.05px 0">f</b><b style="left:193.45px;top:582px;transform:scaleX(1.031);transform-origin:2.05px 0">f</b><b style="left:197.52px;top:582px;transform:scaleX(1.031);transform-origin:3.88px 0">e</b><b style="left:205.55px;top:582px;transform:scaleX(1.031);transform-origin:3.61px 0">c</b><b style="left:212.72px;top:582px;transform:scaleX(1.031);transform-origin:2.00px 0">t</b><b style="left:216.71px;top:582px;transform:scaleX(1.031);transform-origin:1.55px 0">i</b><b style="left:220.00px;top:582px;transform:scaleX(1.031);transform-origin:3.90px 0">n</b><b style="left:228.02px;top:582px;transform:scaleX(1.031);transform-origin:3.74px 0">g</b><b style="left:239.14px;top:582px;transform:scaleX(1.031);transform-origin:3.61px 0">c</b><b style="left:246.37px;top:582px;transform:scaleX(1.031);transform-origin:3.89px 0">o</b><b style="left:254.46px;top:582px;transform:scaleX(1.031);transform-origin:5.83px 0">m</b><b style="left:266.43px;top:582px;transform:scaleX(1.031);transform-origin:4.05px 0">p</b><b style="left:274.47px;top:582px;transform:scaleX(1.031);transform-origin:4.19px 0">a</b><b style="left:282.45px;top:582px;transform:scaleX(1.031);transform-origin:2.68px 0">r</b><b style="left:287.30px;top:582px;transform:scaleX(1.031);transform-origin:4.19px 0">a</b><b style="left:295.33px;top:582px;transform:scaleX(1.031);transform-origin:4.05px 0">b</b><b style="left:303.28px;top:582px;transform:scaleX(1.031);transform-origin:1.55px 0">i</b><b style="left:306.49px;top:582px;transform:scaleX(1.031);transform-origin:1.56px 0">l</b><b style="left:309.70px;top:582px;transform:scaleX(1.031);transform-origin:1.55px 0">i</b><b style="left:312.92px;top:582px;transform:scaleX(1.031);transform-origin:2.00px 0">t</b><b style="left:316.98px;top:582px;transform:scaleX(1.031);transform-origin:3.50px 0">y</b><b style="left:323.79px;top:582px;transform:scaleX(0.847);transform-origin:1.94px 0">,</b><b style="left:330.58px;top:582px;transform:scaleX(1.031);transform-origin:3.44px 0">s</b><b style="left:337.82px;top:582px;transform:scaleX(1.031);transform-origin:3.88px 0">e</b><b style="left:345.85px;top:582px;transform:scaleX(1.031);transform-origin:3.88px 0">e</b><b style="left:356.98px;top:582px;transform:scaleX(1.031);transform-origin:4.19px 0">a</b><b style="left:364.93px;top:582px;transform:scaleX(1.031);transform-origin:1.56px 0">l</b><b style="left:368.19px;top:582px;transform:scaleX(1.031);transform-origin:3.44px 0">s</b><b style="left:375.43px;top:582px;transform:scaleX(1.031);transform-origin:3.89px 0">o</b><b style="left:386.55px;top:582px;transform:scaleX(1.031);transform-origin:3.90px 0">n</b><b style="left:394.58px;top:582px;transform:scaleX(1.031);transform-origin:3.89px 0">o</b><b style="left:402.55px;top:582px;transform:scaleX(1.031);transform-origin:2.00px 0">t</b><b style="left:406.62px;top:582px;transform:scaleX(1.031);transform-origin:3.88px 0">e</b><b class="o" style="left:416.61px;top:582px">1</b><b class="o" style="left:420.80px;top:582px">1</b><b style="left:429.13px;top:582px;transform:scaleX(1.031);transform-origin:1.55px 0">i</b><b style="left:432.41px;top:582px;transform:scaleX(1.031);transform-origin:3.90px 0">n</b><b style="left:443.47px;top:582px;transform:scaleX(1.031);transform-origin:2.00px 0">t</b><b style="left:447.54px;top:582px;transform:scaleX(1.031);transform-origin:3.92px 0">h</b><b style="left:455.57px;top:582px;transform:scaleX(1.031);transform-origin:3.88px 0">e</b><b style="left:466.68px;top:582px;transform:scaleX(1.031);transform-origin:3.44px 0">s</b><b style="left:473.91px;top:582px;transform:scaleX(1.031);transform-origin:3.88px 0">u</b><b style="left:482.00px;top:582px;transform:scaleX(1.031);transform-origin:5.83px 0">m</b><b style="left:494.03px;top:582px;transform:scaleX(1.031);transform-origin:5.83px 0">m</b><b style="left:506.01px;top:582px;transform:scaleX(1.031);transform-origin:4.19px 0">a</b><b style="left:513.99px;top:582px;transform:scaleX(1.031);transform-origin:2.68px 0">r</b><b style="left:518.83px;top:582px;transform:scaleX(1.031);transform-origin:3.50px 0">y</b><b style="left:529.09px;top:582px;transform:scaleX(1.031);transform-origin:2.05px 0">f</b><b style="left:533.09px;top:582px;transform:scaleX(1.031);transform-origin:1.55px 0">i</b><b style="left:536.37px;top:582px;transform:scaleX(1.031);transform-origin:3.90px 0">n</b><b style="left:544.41px;top:582px;transform:scaleX(1.031);transform-origin:4.19px 0">a</b><b style="left:552.43px;top:582px;transform:scaleX(1.031);transform-origin:3.90px 0">n</b><b style="left:560.45px;top:582px;transform:scaleX(1.031);transform-origin:3.61px 0">c</b><b style="left:567.61px;top:582px;transform:scaleX(1.031);transform-origin:1.55px 0">i</b><b style="left:570.90px;top:582px;transform:scaleX(1.031);transform-origin:4.19px 0">a</b><b style="left:578.85px;top:582px;transform:scaleX(1.031);transform-origin:1.56px 0">l</b><b style="left:585.20px;top:582px;transform:scaleX(1.031);transform-origin:3.44px 0">s</b><b style="left:592.38px;top:582px;transform:scaleX(1.031);transform-origin:2.00px 0">t</b><b style="left:596.46px;top:582px;transform:scaleX(1.031);transform-origin:4.19px 0">a</b><b style="left:604.42px;top:582px;transform:scaleX(1.031);transform-origin:2.00px 0">t</b><b style="left:608.49px;top:582px;transform:scaleX(1.031);transform-origin:3.88px 0">e</b><b style="left:616.58px;top:582px;transform:scaleX(1.031);transform-origin:5.83px 0">m</b><b style="left:628.55px;top:582px;transform:scaleX(1.031);transform-origin:3.88px 0">e</b><b style="left:636.58px;top:582px;transform:scaleX(1.031);transform-origin:3.90px 0">n</b><b style="left:644.55px;top:582px;transform:scaleX(1.031);transform-origin:2.00px 0">t</b><b style="left:648.61px;top:582px;transform:scaleX(1.031);transform-origin:3.44px 0">s</b>
</body></html>
